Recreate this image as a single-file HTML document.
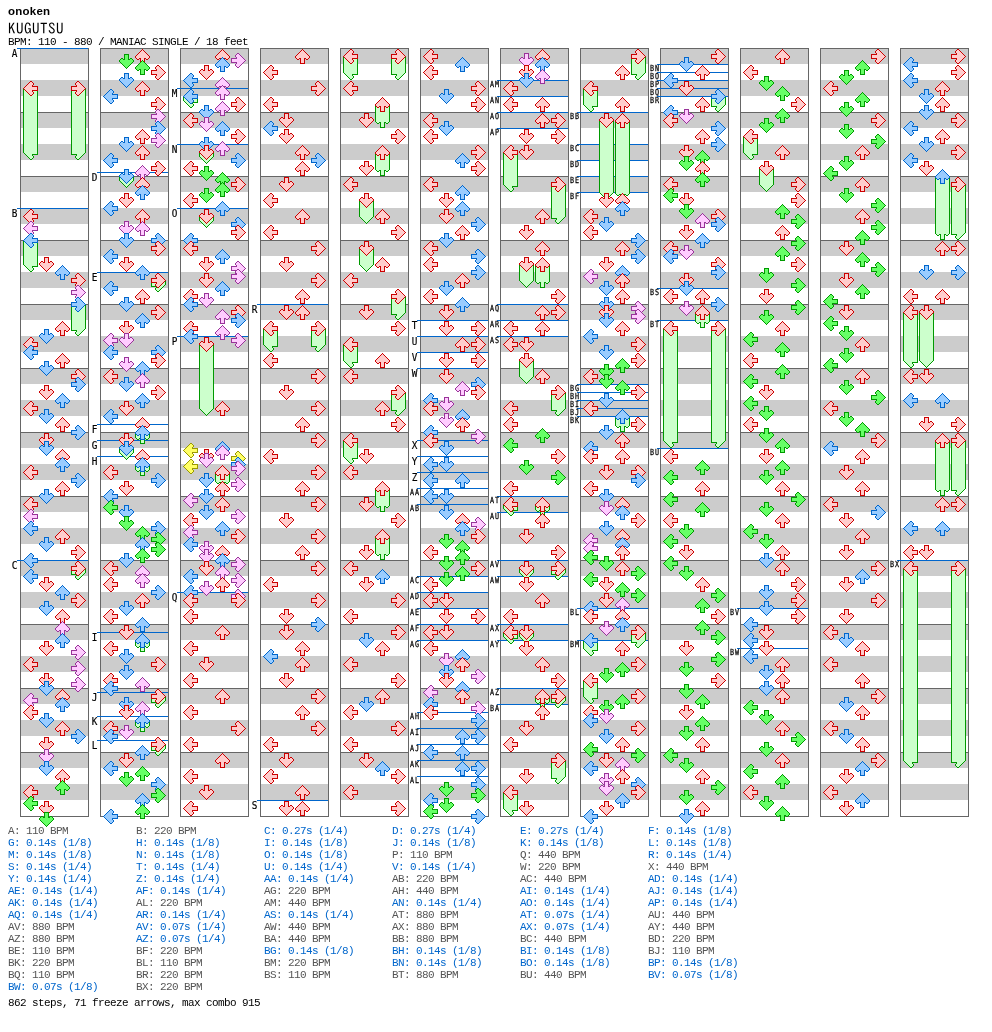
<!DOCTYPE html>
<html><head><meta charset="utf-8"><title>KUGUTSU</title>
<style>
html,body{margin:0;padding:0;background:#fff;width:992px;height:1032px;overflow:hidden;position:relative}
.t{position:absolute;white-space:pre;color:#000}
#ar{left:8px;top:5px;font:bold 11.5px/12px "Liberation Sans",sans-serif;letter-spacing:0.25px}
#ti{left:8px;top:21px;font:15px/16px "IPAGothic",monospace;letter-spacing:0.5px}
#bpm{left:8px;top:36px;font:11px/12px "Liberation Mono",monospace;letter-spacing:-0.6px}
svg{position:absolute;left:0;top:0}
i{position:absolute;width:1px;height:1px;display:block}
.fb{position:absolute;display:block;width:13px;background:#ccffcc;border-left:1px solid #009900;border-right:1px solid #009900}
.qlr{box-shadow:8px 2px #ffcccc,9px 2px #ffcccc,7px 3px #ffcccc,8px 3px #ffcccc,9px 3px #ffcccc,10px 3px #ffcccc,6px 4px #ffcccc,7px 4px #ffcccc,8px 4px #ffcccc,9px 4px #ffcccc,10px 4px #ffcccc,5px 5px #ffcccc,6px 5px #ffcccc,7px 5px #ffcccc,8px 5px #ffcccc,9px 5px #ffcccc,4px 6px #ffcccc,5px 6px #ffcccc,6px 6px #ffcccc,7px 6px #ffcccc,8px 6px #ffcccc,9px 6px #ffcccc,3px 7px #ffcccc,4px 7px #ffcccc,5px 7px #ffcccc,6px 7px #ffcccc,7px 7px #ffcccc,8px 7px #ffcccc,9px 7px #ffcccc,10px 7px #ffcccc,11px 7px #ffcccc,12px 7px #ffcccc,13px 7px #ffcccc,14px 7px #ffcccc,2px 8px #ffcccc,3px 8px #ffcccc,4px 8px #ffcccc,5px 8px #ffcccc,6px 8px #ffcccc,7px 8px #ffcccc,8px 8px #ffcccc,9px 8px #ffcccc,10px 8px #ffcccc,11px 8px #ffcccc,12px 8px #ffcccc,13px 8px #ffcccc,14px 8px #ffcccc,3px 9px #ffcccc,4px 9px #ffcccc,5px 9px #ffcccc,6px 9px #ffcccc,7px 9px #ffcccc,8px 9px #ffcccc,9px 9px #ffcccc,10px 9px #ffcccc,11px 9px #ffcccc,12px 9px #ffcccc,13px 9px #ffcccc,14px 9px #ffcccc,4px 10px #ffcccc,5px 10px #ffcccc,6px 10px #ffcccc,7px 10px #ffcccc,8px 10px #ffcccc,9px 10px #ffcccc,5px 11px #ffcccc,6px 11px #ffcccc,7px 11px #ffcccc,8px 11px #ffcccc,9px 11px #ffcccc,6px 12px #ffcccc,7px 12px #ffcccc,8px 12px #ffcccc,9px 12px #ffcccc,10px 12px #ffcccc,7px 13px #ffcccc,8px 13px #ffcccc,9px 13px #ffcccc,10px 13px #ffcccc,8px 14px #ffcccc,9px 14px #ffcccc,8px 1px #cc0000,9px 1px #cc0000,7px 2px #cc0000,10px 2px #cc0000,6px 3px #cc0000,11px 3px #cc0000,5px 4px #cc0000,11px 4px #cc0000,4px 5px #cc0000,10px 5px #cc0000,3px 6px #cc0000,10px 6px #cc0000,11px 6px #cc0000,12px 6px #cc0000,13px 6px #cc0000,14px 6px #cc0000,15px 6px #cc0000,2px 7px #cc0000,15px 7px #cc0000,1px 8px #cc0000,15px 8px #cc0000,2px 9px #cc0000,15px 9px #cc0000,3px 10px #cc0000,10px 10px #cc0000,11px 10px #cc0000,12px 10px #cc0000,13px 10px #cc0000,14px 10px #cc0000,15px 10px #cc0000,4px 11px #cc0000,10px 11px #cc0000,5px 12px #cc0000,11px 12px #cc0000,6px 13px #cc0000,11px 13px #cc0000,7px 14px #cc0000,10px 14px #cc0000,8px 15px #cc0000,9px 15px #cc0000}.qlb{box-shadow:8px 2px #99ccff,9px 2px #99ccff,7px 3px #99ccff,8px 3px #99ccff,9px 3px #99ccff,10px 3px #99ccff,6px 4px #99ccff,7px 4px #99ccff,8px 4px #99ccff,9px 4px #99ccff,10px 4px #99ccff,5px 5px #99ccff,6px 5px #99ccff,7px 5px #99ccff,8px 5px #99ccff,9px 5px #99ccff,4px 6px #99ccff,5px 6px #99ccff,6px 6px #99ccff,7px 6px #99ccff,8px 6px #99ccff,9px 6px #99ccff,3px 7px #99ccff,4px 7px #99ccff,5px 7px #99ccff,6px 7px #99ccff,7px 7px #99ccff,8px 7px #99ccff,9px 7px #99ccff,10px 7px #99ccff,11px 7px #99ccff,12px 7px #99ccff,13px 7px #99ccff,14px 7px #99ccff,2px 8px #99ccff,3px 8px #99ccff,4px 8px #99ccff,5px 8px #99ccff,6px 8px #99ccff,7px 8px #99ccff,8px 8px #99ccff,9px 8px #99ccff,10px 8px #99ccff,11px 8px #99ccff,12px 8px #99ccff,13px 8px #99ccff,14px 8px #99ccff,3px 9px #99ccff,4px 9px #99ccff,5px 9px #99ccff,6px 9px #99ccff,7px 9px #99ccff,8px 9px #99ccff,9px 9px #99ccff,10px 9px #99ccff,11px 9px #99ccff,12px 9px #99ccff,13px 9px #99ccff,14px 9px #99ccff,4px 10px #99ccff,5px 10px #99ccff,6px 10px #99ccff,7px 10px #99ccff,8px 10px #99ccff,9px 10px #99ccff,5px 11px #99ccff,6px 11px #99ccff,7px 11px #99ccff,8px 11px #99ccff,9px 11px #99ccff,6px 12px #99ccff,7px 12px #99ccff,8px 12px #99ccff,9px 12px #99ccff,10px 12px #99ccff,7px 13px #99ccff,8px 13px #99ccff,9px 13px #99ccff,10px 13px #99ccff,8px 14px #99ccff,9px 14px #99ccff,8px 1px #0066cc,9px 1px #0066cc,7px 2px #0066cc,10px 2px #0066cc,6px 3px #0066cc,11px 3px #0066cc,5px 4px #0066cc,11px 4px #0066cc,4px 5px #0066cc,10px 5px #0066cc,3px 6px #0066cc,10px 6px #0066cc,11px 6px #0066cc,12px 6px #0066cc,13px 6px #0066cc,14px 6px #0066cc,15px 6px #0066cc,2px 7px #0066cc,15px 7px #0066cc,1px 8px #0066cc,15px 8px #0066cc,2px 9px #0066cc,15px 9px #0066cc,3px 10px #0066cc,10px 10px #0066cc,11px 10px #0066cc,12px 10px #0066cc,13px 10px #0066cc,14px 10px #0066cc,15px 10px #0066cc,4px 11px #0066cc,10px 11px #0066cc,5px 12px #0066cc,11px 12px #0066cc,6px 13px #0066cc,11px 13px #0066cc,7px 14px #0066cc,10px 14px #0066cc,8px 15px #0066cc,9px 15px #0066cc}.qlg{box-shadow:8px 2px #66ff66,9px 2px #66ff66,7px 3px #66ff66,8px 3px #66ff66,9px 3px #66ff66,10px 3px #66ff66,6px 4px #66ff66,7px 4px #66ff66,8px 4px #66ff66,9px 4px #66ff66,10px 4px #66ff66,5px 5px #66ff66,6px 5px #66ff66,7px 5px #66ff66,8px 5px #66ff66,9px 5px #66ff66,4px 6px #66ff66,5px 6px #66ff66,6px 6px #66ff66,7px 6px #66ff66,8px 6px #66ff66,9px 6px #66ff66,3px 7px #66ff66,4px 7px #66ff66,5px 7px #66ff66,6px 7px #66ff66,7px 7px #66ff66,8px 7px #66ff66,9px 7px #66ff66,10px 7px #66ff66,11px 7px #66ff66,12px 7px #66ff66,13px 7px #66ff66,14px 7px #66ff66,2px 8px #66ff66,3px 8px #66ff66,4px 8px #66ff66,5px 8px #66ff66,6px 8px #66ff66,7px 8px #66ff66,8px 8px #66ff66,9px 8px #66ff66,10px 8px #66ff66,11px 8px #66ff66,12px 8px #66ff66,13px 8px #66ff66,14px 8px #66ff66,3px 9px #66ff66,4px 9px #66ff66,5px 9px #66ff66,6px 9px #66ff66,7px 9px #66ff66,8px 9px #66ff66,9px 9px #66ff66,10px 9px #66ff66,11px 9px #66ff66,12px 9px #66ff66,13px 9px #66ff66,14px 9px #66ff66,4px 10px #66ff66,5px 10px #66ff66,6px 10px #66ff66,7px 10px #66ff66,8px 10px #66ff66,9px 10px #66ff66,5px 11px #66ff66,6px 11px #66ff66,7px 11px #66ff66,8px 11px #66ff66,9px 11px #66ff66,6px 12px #66ff66,7px 12px #66ff66,8px 12px #66ff66,9px 12px #66ff66,10px 12px #66ff66,7px 13px #66ff66,8px 13px #66ff66,9px 13px #66ff66,10px 13px #66ff66,8px 14px #66ff66,9px 14px #66ff66,8px 1px #009900,9px 1px #009900,7px 2px #009900,10px 2px #009900,6px 3px #009900,11px 3px #009900,5px 4px #009900,11px 4px #009900,4px 5px #009900,10px 5px #009900,3px 6px #009900,10px 6px #009900,11px 6px #009900,12px 6px #009900,13px 6px #009900,14px 6px #009900,15px 6px #009900,2px 7px #009900,15px 7px #009900,1px 8px #009900,15px 8px #009900,2px 9px #009900,15px 9px #009900,3px 10px #009900,10px 10px #009900,11px 10px #009900,12px 10px #009900,13px 10px #009900,14px 10px #009900,15px 10px #009900,4px 11px #009900,10px 11px #009900,5px 12px #009900,11px 12px #009900,6px 13px #009900,11px 13px #009900,7px 14px #009900,10px 14px #009900,8px 15px #009900,9px 15px #009900}.qlp{box-shadow:8px 2px #ffccff,9px 2px #ffccff,7px 3px #ffccff,8px 3px #ffccff,9px 3px #ffccff,10px 3px #ffccff,6px 4px #ffccff,7px 4px #ffccff,8px 4px #ffccff,9px 4px #ffccff,10px 4px #ffccff,5px 5px #ffccff,6px 5px #ffccff,7px 5px #ffccff,8px 5px #ffccff,9px 5px #ffccff,4px 6px #ffccff,5px 6px #ffccff,6px 6px #ffccff,7px 6px #ffccff,8px 6px #ffccff,9px 6px #ffccff,3px 7px #ffccff,4px 7px #ffccff,5px 7px #ffccff,6px 7px #ffccff,7px 7px #ffccff,8px 7px #ffccff,9px 7px #ffccff,10px 7px #ffccff,11px 7px #ffccff,12px 7px #ffccff,13px 7px #ffccff,14px 7px #ffccff,2px 8px #ffccff,3px 8px #ffccff,4px 8px #ffccff,5px 8px #ffccff,6px 8px #ffccff,7px 8px #ffccff,8px 8px #ffccff,9px 8px #ffccff,10px 8px #ffccff,11px 8px #ffccff,12px 8px #ffccff,13px 8px #ffccff,14px 8px #ffccff,3px 9px #ffccff,4px 9px #ffccff,5px 9px #ffccff,6px 9px #ffccff,7px 9px #ffccff,8px 9px #ffccff,9px 9px #ffccff,10px 9px #ffccff,11px 9px #ffccff,12px 9px #ffccff,13px 9px #ffccff,14px 9px #ffccff,4px 10px #ffccff,5px 10px #ffccff,6px 10px #ffccff,7px 10px #ffccff,8px 10px #ffccff,9px 10px #ffccff,5px 11px #ffccff,6px 11px #ffccff,7px 11px #ffccff,8px 11px #ffccff,9px 11px #ffccff,6px 12px #ffccff,7px 12px #ffccff,8px 12px #ffccff,9px 12px #ffccff,10px 12px #ffccff,7px 13px #ffccff,8px 13px #ffccff,9px 13px #ffccff,10px 13px #ffccff,8px 14px #ffccff,9px 14px #ffccff,8px 1px #993399,9px 1px #993399,7px 2px #993399,10px 2px #993399,6px 3px #993399,11px 3px #993399,5px 4px #993399,11px 4px #993399,4px 5px #993399,10px 5px #993399,3px 6px #993399,10px 6px #993399,11px 6px #993399,12px 6px #993399,13px 6px #993399,14px 6px #993399,15px 6px #993399,2px 7px #993399,15px 7px #993399,1px 8px #993399,15px 8px #993399,2px 9px #993399,15px 9px #993399,3px 10px #993399,10px 10px #993399,11px 10px #993399,12px 10px #993399,13px 10px #993399,14px 10px #993399,15px 10px #993399,4px 11px #993399,10px 11px #993399,5px 12px #993399,11px 12px #993399,6px 13px #993399,11px 13px #993399,7px 14px #993399,10px 14px #993399,8px 15px #993399,9px 15px #993399}.qly{box-shadow:8px 2px #ffff66,9px 2px #ffff66,7px 3px #ffff66,8px 3px #ffff66,9px 3px #ffff66,10px 3px #ffff66,6px 4px #ffff66,7px 4px #ffff66,8px 4px #ffff66,9px 4px #ffff66,10px 4px #ffff66,5px 5px #ffff66,6px 5px #ffff66,7px 5px #ffff66,8px 5px #ffff66,9px 5px #ffff66,4px 6px #ffff66,5px 6px #ffff66,6px 6px #ffff66,7px 6px #ffff66,8px 6px #ffff66,9px 6px #ffff66,3px 7px #ffff66,4px 7px #ffff66,5px 7px #ffff66,6px 7px #ffff66,7px 7px #ffff66,8px 7px #ffff66,9px 7px #ffff66,10px 7px #ffff66,11px 7px #ffff66,12px 7px #ffff66,13px 7px #ffff66,14px 7px #ffff66,2px 8px #ffff66,3px 8px #ffff66,4px 8px #ffff66,5px 8px #ffff66,6px 8px #ffff66,7px 8px #ffff66,8px 8px #ffff66,9px 8px #ffff66,10px 8px #ffff66,11px 8px #ffff66,12px 8px #ffff66,13px 8px #ffff66,14px 8px #ffff66,3px 9px #ffff66,4px 9px #ffff66,5px 9px #ffff66,6px 9px #ffff66,7px 9px #ffff66,8px 9px #ffff66,9px 9px #ffff66,10px 9px #ffff66,11px 9px #ffff66,12px 9px #ffff66,13px 9px #ffff66,14px 9px #ffff66,4px 10px #ffff66,5px 10px #ffff66,6px 10px #ffff66,7px 10px #ffff66,8px 10px #ffff66,9px 10px #ffff66,5px 11px #ffff66,6px 11px #ffff66,7px 11px #ffff66,8px 11px #ffff66,9px 11px #ffff66,6px 12px #ffff66,7px 12px #ffff66,8px 12px #ffff66,9px 12px #ffff66,10px 12px #ffff66,7px 13px #ffff66,8px 13px #ffff66,9px 13px #ffff66,10px 13px #ffff66,8px 14px #ffff66,9px 14px #ffff66,8px 1px #999900,9px 1px #999900,7px 2px #999900,10px 2px #999900,6px 3px #999900,11px 3px #999900,5px 4px #999900,11px 4px #999900,4px 5px #999900,10px 5px #999900,3px 6px #999900,10px 6px #999900,11px 6px #999900,12px 6px #999900,13px 6px #999900,14px 6px #999900,15px 6px #999900,2px 7px #999900,15px 7px #999900,1px 8px #999900,15px 8px #999900,2px 9px #999900,15px 9px #999900,3px 10px #999900,10px 10px #999900,11px 10px #999900,12px 10px #999900,13px 10px #999900,14px 10px #999900,15px 10px #999900,4px 11px #999900,10px 11px #999900,5px 12px #999900,11px 12px #999900,6px 13px #999900,11px 13px #999900,7px 14px #999900,10px 14px #999900,8px 15px #999900,9px 15px #999900}.zl{box-shadow:2px 8px #ccffcc,3px 8px #ccffcc,4px 8px #ccffcc,5px 8px #ccffcc,6px 8px #ccffcc,7px 8px #ccffcc,8px 8px #ccffcc,9px 8px #ccffcc,10px 8px #ccffcc,11px 8px #ccffcc,12px 8px #ccffcc,13px 8px #ccffcc,14px 8px #ccffcc,3px 9px #ccffcc,4px 9px #ccffcc,5px 9px #ccffcc,6px 9px #ccffcc,7px 9px #ccffcc,8px 9px #ccffcc,9px 9px #ccffcc,10px 9px #ccffcc,11px 9px #ccffcc,12px 9px #ccffcc,13px 9px #ccffcc,14px 9px #ccffcc,4px 10px #ccffcc,5px 10px #ccffcc,6px 10px #ccffcc,7px 10px #ccffcc,8px 10px #ccffcc,9px 10px #ccffcc,5px 11px #ccffcc,6px 11px #ccffcc,7px 11px #ccffcc,8px 11px #ccffcc,9px 11px #ccffcc,6px 12px #ccffcc,7px 12px #ccffcc,8px 12px #ccffcc,9px 12px #ccffcc,10px 12px #ccffcc,7px 13px #ccffcc,8px 13px #ccffcc,9px 13px #ccffcc,10px 13px #ccffcc,8px 14px #ccffcc,9px 14px #ccffcc,1px 8px #009900,15px 8px #009900,2px 9px #009900,15px 9px #009900,3px 10px #009900,10px 10px #009900,11px 10px #009900,12px 10px #009900,13px 10px #009900,14px 10px #009900,15px 10px #009900,4px 11px #009900,10px 11px #009900,5px 12px #009900,11px 12px #009900,6px 13px #009900,11px 13px #009900,7px 14px #009900,10px 14px #009900,8px 15px #009900,9px 15px #009900}.qdr{box-shadow:7px 2px #ffcccc,8px 2px #ffcccc,9px 2px #ffcccc,7px 3px #ffcccc,8px 3px #ffcccc,9px 3px #ffcccc,7px 4px #ffcccc,8px 4px #ffcccc,9px 4px #ffcccc,7px 5px #ffcccc,8px 5px #ffcccc,9px 5px #ffcccc,3px 6px #ffcccc,4px 6px #ffcccc,7px 6px #ffcccc,8px 6px #ffcccc,9px 6px #ffcccc,12px 6px #ffcccc,13px 6px #ffcccc,2px 7px #ffcccc,3px 7px #ffcccc,4px 7px #ffcccc,5px 7px #ffcccc,6px 7px #ffcccc,7px 7px #ffcccc,8px 7px #ffcccc,9px 7px #ffcccc,10px 7px #ffcccc,11px 7px #ffcccc,12px 7px #ffcccc,13px 7px #ffcccc,14px 7px #ffcccc,2px 8px #ffcccc,3px 8px #ffcccc,4px 8px #ffcccc,5px 8px #ffcccc,6px 8px #ffcccc,7px 8px #ffcccc,8px 8px #ffcccc,9px 8px #ffcccc,10px 8px #ffcccc,11px 8px #ffcccc,12px 8px #ffcccc,13px 8px #ffcccc,14px 8px #ffcccc,3px 9px #ffcccc,4px 9px #ffcccc,5px 9px #ffcccc,6px 9px #ffcccc,7px 9px #ffcccc,8px 9px #ffcccc,9px 9px #ffcccc,10px 9px #ffcccc,11px 9px #ffcccc,12px 9px #ffcccc,13px 9px #ffcccc,4px 10px #ffcccc,5px 10px #ffcccc,6px 10px #ffcccc,7px 10px #ffcccc,8px 10px #ffcccc,9px 10px #ffcccc,10px 10px #ffcccc,11px 10px #ffcccc,12px 10px #ffcccc,5px 11px #ffcccc,6px 11px #ffcccc,7px 11px #ffcccc,8px 11px #ffcccc,9px 11px #ffcccc,10px 11px #ffcccc,11px 11px #ffcccc,6px 12px #ffcccc,7px 12px #ffcccc,8px 12px #ffcccc,9px 12px #ffcccc,10px 12px #ffcccc,7px 13px #ffcccc,8px 13px #ffcccc,9px 13px #ffcccc,8px 14px #ffcccc,6px 1px #cc0000,7px 1px #cc0000,8px 1px #cc0000,9px 1px #cc0000,10px 1px #cc0000,6px 2px #cc0000,10px 2px #cc0000,6px 3px #cc0000,10px 3px #cc0000,6px 4px #cc0000,10px 4px #cc0000,3px 5px #cc0000,4px 5px #cc0000,6px 5px #cc0000,10px 5px #cc0000,12px 5px #cc0000,13px 5px #cc0000,2px 6px #cc0000,5px 6px #cc0000,6px 6px #cc0000,10px 6px #cc0000,11px 6px #cc0000,14px 6px #cc0000,1px 7px #cc0000,15px 7px #cc0000,1px 8px #cc0000,15px 8px #cc0000,2px 9px #cc0000,14px 9px #cc0000,3px 10px #cc0000,13px 10px #cc0000,4px 11px #cc0000,12px 11px #cc0000,5px 12px #cc0000,11px 12px #cc0000,6px 13px #cc0000,10px 13px #cc0000,7px 14px #cc0000,9px 14px #cc0000,8px 15px #cc0000}.qdb{box-shadow:7px 2px #99ccff,8px 2px #99ccff,9px 2px #99ccff,7px 3px #99ccff,8px 3px #99ccff,9px 3px #99ccff,7px 4px #99ccff,8px 4px #99ccff,9px 4px #99ccff,7px 5px #99ccff,8px 5px #99ccff,9px 5px #99ccff,3px 6px #99ccff,4px 6px #99ccff,7px 6px #99ccff,8px 6px #99ccff,9px 6px #99ccff,12px 6px #99ccff,13px 6px #99ccff,2px 7px #99ccff,3px 7px #99ccff,4px 7px #99ccff,5px 7px #99ccff,6px 7px #99ccff,7px 7px #99ccff,8px 7px #99ccff,9px 7px #99ccff,10px 7px #99ccff,11px 7px #99ccff,12px 7px #99ccff,13px 7px #99ccff,14px 7px #99ccff,2px 8px #99ccff,3px 8px #99ccff,4px 8px #99ccff,5px 8px #99ccff,6px 8px #99ccff,7px 8px #99ccff,8px 8px #99ccff,9px 8px #99ccff,10px 8px #99ccff,11px 8px #99ccff,12px 8px #99ccff,13px 8px #99ccff,14px 8px #99ccff,3px 9px #99ccff,4px 9px #99ccff,5px 9px #99ccff,6px 9px #99ccff,7px 9px #99ccff,8px 9px #99ccff,9px 9px #99ccff,10px 9px #99ccff,11px 9px #99ccff,12px 9px #99ccff,13px 9px #99ccff,4px 10px #99ccff,5px 10px #99ccff,6px 10px #99ccff,7px 10px #99ccff,8px 10px #99ccff,9px 10px #99ccff,10px 10px #99ccff,11px 10px #99ccff,12px 10px #99ccff,5px 11px #99ccff,6px 11px #99ccff,7px 11px #99ccff,8px 11px #99ccff,9px 11px #99ccff,10px 11px #99ccff,11px 11px #99ccff,6px 12px #99ccff,7px 12px #99ccff,8px 12px #99ccff,9px 12px #99ccff,10px 12px #99ccff,7px 13px #99ccff,8px 13px #99ccff,9px 13px #99ccff,8px 14px #99ccff,6px 1px #0066cc,7px 1px #0066cc,8px 1px #0066cc,9px 1px #0066cc,10px 1px #0066cc,6px 2px #0066cc,10px 2px #0066cc,6px 3px #0066cc,10px 3px #0066cc,6px 4px #0066cc,10px 4px #0066cc,3px 5px #0066cc,4px 5px #0066cc,6px 5px #0066cc,10px 5px #0066cc,12px 5px #0066cc,13px 5px #0066cc,2px 6px #0066cc,5px 6px #0066cc,6px 6px #0066cc,10px 6px #0066cc,11px 6px #0066cc,14px 6px #0066cc,1px 7px #0066cc,15px 7px #0066cc,1px 8px #0066cc,15px 8px #0066cc,2px 9px #0066cc,14px 9px #0066cc,3px 10px #0066cc,13px 10px #0066cc,4px 11px #0066cc,12px 11px #0066cc,5px 12px #0066cc,11px 12px #0066cc,6px 13px #0066cc,10px 13px #0066cc,7px 14px #0066cc,9px 14px #0066cc,8px 15px #0066cc}.qdg{box-shadow:7px 2px #66ff66,8px 2px #66ff66,9px 2px #66ff66,7px 3px #66ff66,8px 3px #66ff66,9px 3px #66ff66,7px 4px #66ff66,8px 4px #66ff66,9px 4px #66ff66,7px 5px #66ff66,8px 5px #66ff66,9px 5px #66ff66,3px 6px #66ff66,4px 6px #66ff66,7px 6px #66ff66,8px 6px #66ff66,9px 6px #66ff66,12px 6px #66ff66,13px 6px #66ff66,2px 7px #66ff66,3px 7px #66ff66,4px 7px #66ff66,5px 7px #66ff66,6px 7px #66ff66,7px 7px #66ff66,8px 7px #66ff66,9px 7px #66ff66,10px 7px #66ff66,11px 7px #66ff66,12px 7px #66ff66,13px 7px #66ff66,14px 7px #66ff66,2px 8px #66ff66,3px 8px #66ff66,4px 8px #66ff66,5px 8px #66ff66,6px 8px #66ff66,7px 8px #66ff66,8px 8px #66ff66,9px 8px #66ff66,10px 8px #66ff66,11px 8px #66ff66,12px 8px #66ff66,13px 8px #66ff66,14px 8px #66ff66,3px 9px #66ff66,4px 9px #66ff66,5px 9px #66ff66,6px 9px #66ff66,7px 9px #66ff66,8px 9px #66ff66,9px 9px #66ff66,10px 9px #66ff66,11px 9px #66ff66,12px 9px #66ff66,13px 9px #66ff66,4px 10px #66ff66,5px 10px #66ff66,6px 10px #66ff66,7px 10px #66ff66,8px 10px #66ff66,9px 10px #66ff66,10px 10px #66ff66,11px 10px #66ff66,12px 10px #66ff66,5px 11px #66ff66,6px 11px #66ff66,7px 11px #66ff66,8px 11px #66ff66,9px 11px #66ff66,10px 11px #66ff66,11px 11px #66ff66,6px 12px #66ff66,7px 12px #66ff66,8px 12px #66ff66,9px 12px #66ff66,10px 12px #66ff66,7px 13px #66ff66,8px 13px #66ff66,9px 13px #66ff66,8px 14px #66ff66,6px 1px #009900,7px 1px #009900,8px 1px #009900,9px 1px #009900,10px 1px #009900,6px 2px #009900,10px 2px #009900,6px 3px #009900,10px 3px #009900,6px 4px #009900,10px 4px #009900,3px 5px #009900,4px 5px #009900,6px 5px #009900,10px 5px #009900,12px 5px #009900,13px 5px #009900,2px 6px #009900,5px 6px #009900,6px 6px #009900,10px 6px #009900,11px 6px #009900,14px 6px #009900,1px 7px #009900,15px 7px #009900,1px 8px #009900,15px 8px #009900,2px 9px #009900,14px 9px #009900,3px 10px #009900,13px 10px #009900,4px 11px #009900,12px 11px #009900,5px 12px #009900,11px 12px #009900,6px 13px #009900,10px 13px #009900,7px 14px #009900,9px 14px #009900,8px 15px #009900}.qdp{box-shadow:7px 2px #ffccff,8px 2px #ffccff,9px 2px #ffccff,7px 3px #ffccff,8px 3px #ffccff,9px 3px #ffccff,7px 4px #ffccff,8px 4px #ffccff,9px 4px #ffccff,7px 5px #ffccff,8px 5px #ffccff,9px 5px #ffccff,3px 6px #ffccff,4px 6px #ffccff,7px 6px #ffccff,8px 6px #ffccff,9px 6px #ffccff,12px 6px #ffccff,13px 6px #ffccff,2px 7px #ffccff,3px 7px #ffccff,4px 7px #ffccff,5px 7px #ffccff,6px 7px #ffccff,7px 7px #ffccff,8px 7px #ffccff,9px 7px #ffccff,10px 7px #ffccff,11px 7px #ffccff,12px 7px #ffccff,13px 7px #ffccff,14px 7px #ffccff,2px 8px #ffccff,3px 8px #ffccff,4px 8px #ffccff,5px 8px #ffccff,6px 8px #ffccff,7px 8px #ffccff,8px 8px #ffccff,9px 8px #ffccff,10px 8px #ffccff,11px 8px #ffccff,12px 8px #ffccff,13px 8px #ffccff,14px 8px #ffccff,3px 9px #ffccff,4px 9px #ffccff,5px 9px #ffccff,6px 9px #ffccff,7px 9px #ffccff,8px 9px #ffccff,9px 9px #ffccff,10px 9px #ffccff,11px 9px #ffccff,12px 9px #ffccff,13px 9px #ffccff,4px 10px #ffccff,5px 10px #ffccff,6px 10px #ffccff,7px 10px #ffccff,8px 10px #ffccff,9px 10px #ffccff,10px 10px #ffccff,11px 10px #ffccff,12px 10px #ffccff,5px 11px #ffccff,6px 11px #ffccff,7px 11px #ffccff,8px 11px #ffccff,9px 11px #ffccff,10px 11px #ffccff,11px 11px #ffccff,6px 12px #ffccff,7px 12px #ffccff,8px 12px #ffccff,9px 12px #ffccff,10px 12px #ffccff,7px 13px #ffccff,8px 13px #ffccff,9px 13px #ffccff,8px 14px #ffccff,6px 1px #993399,7px 1px #993399,8px 1px #993399,9px 1px #993399,10px 1px #993399,6px 2px #993399,10px 2px #993399,6px 3px #993399,10px 3px #993399,6px 4px #993399,10px 4px #993399,3px 5px #993399,4px 5px #993399,6px 5px #993399,10px 5px #993399,12px 5px #993399,13px 5px #993399,2px 6px #993399,5px 6px #993399,6px 6px #993399,10px 6px #993399,11px 6px #993399,14px 6px #993399,1px 7px #993399,15px 7px #993399,1px 8px #993399,15px 8px #993399,2px 9px #993399,14px 9px #993399,3px 10px #993399,13px 10px #993399,4px 11px #993399,12px 11px #993399,5px 12px #993399,11px 12px #993399,6px 13px #993399,10px 13px #993399,7px 14px #993399,9px 14px #993399,8px 15px #993399}.qdy{box-shadow:7px 2px #ffff66,8px 2px #ffff66,9px 2px #ffff66,7px 3px #ffff66,8px 3px #ffff66,9px 3px #ffff66,7px 4px #ffff66,8px 4px #ffff66,9px 4px #ffff66,7px 5px #ffff66,8px 5px #ffff66,9px 5px #ffff66,3px 6px #ffff66,4px 6px #ffff66,7px 6px #ffff66,8px 6px #ffff66,9px 6px #ffff66,12px 6px #ffff66,13px 6px #ffff66,2px 7px #ffff66,3px 7px #ffff66,4px 7px #ffff66,5px 7px #ffff66,6px 7px #ffff66,7px 7px #ffff66,8px 7px #ffff66,9px 7px #ffff66,10px 7px #ffff66,11px 7px #ffff66,12px 7px #ffff66,13px 7px #ffff66,14px 7px #ffff66,2px 8px #ffff66,3px 8px #ffff66,4px 8px #ffff66,5px 8px #ffff66,6px 8px #ffff66,7px 8px #ffff66,8px 8px #ffff66,9px 8px #ffff66,10px 8px #ffff66,11px 8px #ffff66,12px 8px #ffff66,13px 8px #ffff66,14px 8px #ffff66,3px 9px #ffff66,4px 9px #ffff66,5px 9px #ffff66,6px 9px #ffff66,7px 9px #ffff66,8px 9px #ffff66,9px 9px #ffff66,10px 9px #ffff66,11px 9px #ffff66,12px 9px #ffff66,13px 9px #ffff66,4px 10px #ffff66,5px 10px #ffff66,6px 10px #ffff66,7px 10px #ffff66,8px 10px #ffff66,9px 10px #ffff66,10px 10px #ffff66,11px 10px #ffff66,12px 10px #ffff66,5px 11px #ffff66,6px 11px #ffff66,7px 11px #ffff66,8px 11px #ffff66,9px 11px #ffff66,10px 11px #ffff66,11px 11px #ffff66,6px 12px #ffff66,7px 12px #ffff66,8px 12px #ffff66,9px 12px #ffff66,10px 12px #ffff66,7px 13px #ffff66,8px 13px #ffff66,9px 13px #ffff66,8px 14px #ffff66,6px 1px #999900,7px 1px #999900,8px 1px #999900,9px 1px #999900,10px 1px #999900,6px 2px #999900,10px 2px #999900,6px 3px #999900,10px 3px #999900,6px 4px #999900,10px 4px #999900,3px 5px #999900,4px 5px #999900,6px 5px #999900,10px 5px #999900,12px 5px #999900,13px 5px #999900,2px 6px #999900,5px 6px #999900,6px 6px #999900,10px 6px #999900,11px 6px #999900,14px 6px #999900,1px 7px #999900,15px 7px #999900,1px 8px #999900,15px 8px #999900,2px 9px #999900,14px 9px #999900,3px 10px #999900,13px 10px #999900,4px 11px #999900,12px 11px #999900,5px 12px #999900,11px 12px #999900,6px 13px #999900,10px 13px #999900,7px 14px #999900,9px 14px #999900,8px 15px #999900}.zd{box-shadow:2px 8px #ccffcc,3px 8px #ccffcc,4px 8px #ccffcc,5px 8px #ccffcc,6px 8px #ccffcc,7px 8px #ccffcc,8px 8px #ccffcc,9px 8px #ccffcc,10px 8px #ccffcc,11px 8px #ccffcc,12px 8px #ccffcc,13px 8px #ccffcc,14px 8px #ccffcc,3px 9px #ccffcc,4px 9px #ccffcc,5px 9px #ccffcc,6px 9px #ccffcc,7px 9px #ccffcc,8px 9px #ccffcc,9px 9px #ccffcc,10px 9px #ccffcc,11px 9px #ccffcc,12px 9px #ccffcc,13px 9px #ccffcc,4px 10px #ccffcc,5px 10px #ccffcc,6px 10px #ccffcc,7px 10px #ccffcc,8px 10px #ccffcc,9px 10px #ccffcc,10px 10px #ccffcc,11px 10px #ccffcc,12px 10px #ccffcc,5px 11px #ccffcc,6px 11px #ccffcc,7px 11px #ccffcc,8px 11px #ccffcc,9px 11px #ccffcc,10px 11px #ccffcc,11px 11px #ccffcc,6px 12px #ccffcc,7px 12px #ccffcc,8px 12px #ccffcc,9px 12px #ccffcc,10px 12px #ccffcc,7px 13px #ccffcc,8px 13px #ccffcc,9px 13px #ccffcc,8px 14px #ccffcc,1px 8px #009900,15px 8px #009900,2px 9px #009900,14px 9px #009900,3px 10px #009900,13px 10px #009900,4px 11px #009900,12px 11px #009900,5px 12px #009900,11px 12px #009900,6px 13px #009900,10px 13px #009900,7px 14px #009900,9px 14px #009900,8px 15px #009900}.qur{box-shadow:8px 2px #ffcccc,7px 3px #ffcccc,8px 3px #ffcccc,9px 3px #ffcccc,6px 4px #ffcccc,7px 4px #ffcccc,8px 4px #ffcccc,9px 4px #ffcccc,10px 4px #ffcccc,5px 5px #ffcccc,6px 5px #ffcccc,7px 5px #ffcccc,8px 5px #ffcccc,9px 5px #ffcccc,10px 5px #ffcccc,11px 5px #ffcccc,4px 6px #ffcccc,5px 6px #ffcccc,6px 6px #ffcccc,7px 6px #ffcccc,8px 6px #ffcccc,9px 6px #ffcccc,10px 6px #ffcccc,11px 6px #ffcccc,12px 6px #ffcccc,3px 7px #ffcccc,4px 7px #ffcccc,5px 7px #ffcccc,6px 7px #ffcccc,7px 7px #ffcccc,8px 7px #ffcccc,9px 7px #ffcccc,10px 7px #ffcccc,11px 7px #ffcccc,12px 7px #ffcccc,13px 7px #ffcccc,2px 8px #ffcccc,3px 8px #ffcccc,4px 8px #ffcccc,5px 8px #ffcccc,6px 8px #ffcccc,7px 8px #ffcccc,8px 8px #ffcccc,9px 8px #ffcccc,10px 8px #ffcccc,11px 8px #ffcccc,12px 8px #ffcccc,13px 8px #ffcccc,14px 8px #ffcccc,2px 9px #ffcccc,3px 9px #ffcccc,4px 9px #ffcccc,5px 9px #ffcccc,6px 9px #ffcccc,7px 9px #ffcccc,8px 9px #ffcccc,9px 9px #ffcccc,10px 9px #ffcccc,11px 9px #ffcccc,12px 9px #ffcccc,13px 9px #ffcccc,14px 9px #ffcccc,3px 10px #ffcccc,4px 10px #ffcccc,7px 10px #ffcccc,8px 10px #ffcccc,9px 10px #ffcccc,12px 10px #ffcccc,13px 10px #ffcccc,7px 11px #ffcccc,8px 11px #ffcccc,9px 11px #ffcccc,7px 12px #ffcccc,8px 12px #ffcccc,9px 12px #ffcccc,7px 13px #ffcccc,8px 13px #ffcccc,9px 13px #ffcccc,7px 14px #ffcccc,8px 14px #ffcccc,9px 14px #ffcccc,8px 1px #cc0000,7px 2px #cc0000,9px 2px #cc0000,6px 3px #cc0000,10px 3px #cc0000,5px 4px #cc0000,11px 4px #cc0000,4px 5px #cc0000,12px 5px #cc0000,3px 6px #cc0000,13px 6px #cc0000,2px 7px #cc0000,14px 7px #cc0000,1px 8px #cc0000,15px 8px #cc0000,1px 9px #cc0000,15px 9px #cc0000,2px 10px #cc0000,5px 10px #cc0000,6px 10px #cc0000,10px 10px #cc0000,11px 10px #cc0000,14px 10px #cc0000,3px 11px #cc0000,4px 11px #cc0000,6px 11px #cc0000,10px 11px #cc0000,12px 11px #cc0000,13px 11px #cc0000,6px 12px #cc0000,10px 12px #cc0000,6px 13px #cc0000,10px 13px #cc0000,6px 14px #cc0000,10px 14px #cc0000,6px 15px #cc0000,7px 15px #cc0000,8px 15px #cc0000,9px 15px #cc0000,10px 15px #cc0000}.qub{box-shadow:8px 2px #99ccff,7px 3px #99ccff,8px 3px #99ccff,9px 3px #99ccff,6px 4px #99ccff,7px 4px #99ccff,8px 4px #99ccff,9px 4px #99ccff,10px 4px #99ccff,5px 5px #99ccff,6px 5px #99ccff,7px 5px #99ccff,8px 5px #99ccff,9px 5px #99ccff,10px 5px #99ccff,11px 5px #99ccff,4px 6px #99ccff,5px 6px #99ccff,6px 6px #99ccff,7px 6px #99ccff,8px 6px #99ccff,9px 6px #99ccff,10px 6px #99ccff,11px 6px #99ccff,12px 6px #99ccff,3px 7px #99ccff,4px 7px #99ccff,5px 7px #99ccff,6px 7px #99ccff,7px 7px #99ccff,8px 7px #99ccff,9px 7px #99ccff,10px 7px #99ccff,11px 7px #99ccff,12px 7px #99ccff,13px 7px #99ccff,2px 8px #99ccff,3px 8px #99ccff,4px 8px #99ccff,5px 8px #99ccff,6px 8px #99ccff,7px 8px #99ccff,8px 8px #99ccff,9px 8px #99ccff,10px 8px #99ccff,11px 8px #99ccff,12px 8px #99ccff,13px 8px #99ccff,14px 8px #99ccff,2px 9px #99ccff,3px 9px #99ccff,4px 9px #99ccff,5px 9px #99ccff,6px 9px #99ccff,7px 9px #99ccff,8px 9px #99ccff,9px 9px #99ccff,10px 9px #99ccff,11px 9px #99ccff,12px 9px #99ccff,13px 9px #99ccff,14px 9px #99ccff,3px 10px #99ccff,4px 10px #99ccff,7px 10px #99ccff,8px 10px #99ccff,9px 10px #99ccff,12px 10px #99ccff,13px 10px #99ccff,7px 11px #99ccff,8px 11px #99ccff,9px 11px #99ccff,7px 12px #99ccff,8px 12px #99ccff,9px 12px #99ccff,7px 13px #99ccff,8px 13px #99ccff,9px 13px #99ccff,7px 14px #99ccff,8px 14px #99ccff,9px 14px #99ccff,8px 1px #0066cc,7px 2px #0066cc,9px 2px #0066cc,6px 3px #0066cc,10px 3px #0066cc,5px 4px #0066cc,11px 4px #0066cc,4px 5px #0066cc,12px 5px #0066cc,3px 6px #0066cc,13px 6px #0066cc,2px 7px #0066cc,14px 7px #0066cc,1px 8px #0066cc,15px 8px #0066cc,1px 9px #0066cc,15px 9px #0066cc,2px 10px #0066cc,5px 10px #0066cc,6px 10px #0066cc,10px 10px #0066cc,11px 10px #0066cc,14px 10px #0066cc,3px 11px #0066cc,4px 11px #0066cc,6px 11px #0066cc,10px 11px #0066cc,12px 11px #0066cc,13px 11px #0066cc,6px 12px #0066cc,10px 12px #0066cc,6px 13px #0066cc,10px 13px #0066cc,6px 14px #0066cc,10px 14px #0066cc,6px 15px #0066cc,7px 15px #0066cc,8px 15px #0066cc,9px 15px #0066cc,10px 15px #0066cc}.qug{box-shadow:8px 2px #66ff66,7px 3px #66ff66,8px 3px #66ff66,9px 3px #66ff66,6px 4px #66ff66,7px 4px #66ff66,8px 4px #66ff66,9px 4px #66ff66,10px 4px #66ff66,5px 5px #66ff66,6px 5px #66ff66,7px 5px #66ff66,8px 5px #66ff66,9px 5px #66ff66,10px 5px #66ff66,11px 5px #66ff66,4px 6px #66ff66,5px 6px #66ff66,6px 6px #66ff66,7px 6px #66ff66,8px 6px #66ff66,9px 6px #66ff66,10px 6px #66ff66,11px 6px #66ff66,12px 6px #66ff66,3px 7px #66ff66,4px 7px #66ff66,5px 7px #66ff66,6px 7px #66ff66,7px 7px #66ff66,8px 7px #66ff66,9px 7px #66ff66,10px 7px #66ff66,11px 7px #66ff66,12px 7px #66ff66,13px 7px #66ff66,2px 8px #66ff66,3px 8px #66ff66,4px 8px #66ff66,5px 8px #66ff66,6px 8px #66ff66,7px 8px #66ff66,8px 8px #66ff66,9px 8px #66ff66,10px 8px #66ff66,11px 8px #66ff66,12px 8px #66ff66,13px 8px #66ff66,14px 8px #66ff66,2px 9px #66ff66,3px 9px #66ff66,4px 9px #66ff66,5px 9px #66ff66,6px 9px #66ff66,7px 9px #66ff66,8px 9px #66ff66,9px 9px #66ff66,10px 9px #66ff66,11px 9px #66ff66,12px 9px #66ff66,13px 9px #66ff66,14px 9px #66ff66,3px 10px #66ff66,4px 10px #66ff66,7px 10px #66ff66,8px 10px #66ff66,9px 10px #66ff66,12px 10px #66ff66,13px 10px #66ff66,7px 11px #66ff66,8px 11px #66ff66,9px 11px #66ff66,7px 12px #66ff66,8px 12px #66ff66,9px 12px #66ff66,7px 13px #66ff66,8px 13px #66ff66,9px 13px #66ff66,7px 14px #66ff66,8px 14px #66ff66,9px 14px #66ff66,8px 1px #009900,7px 2px #009900,9px 2px #009900,6px 3px #009900,10px 3px #009900,5px 4px #009900,11px 4px #009900,4px 5px #009900,12px 5px #009900,3px 6px #009900,13px 6px #009900,2px 7px #009900,14px 7px #009900,1px 8px #009900,15px 8px #009900,1px 9px #009900,15px 9px #009900,2px 10px #009900,5px 10px #009900,6px 10px #009900,10px 10px #009900,11px 10px #009900,14px 10px #009900,3px 11px #009900,4px 11px #009900,6px 11px #009900,10px 11px #009900,12px 11px #009900,13px 11px #009900,6px 12px #009900,10px 12px #009900,6px 13px #009900,10px 13px #009900,6px 14px #009900,10px 14px #009900,6px 15px #009900,7px 15px #009900,8px 15px #009900,9px 15px #009900,10px 15px #009900}.qup{box-shadow:8px 2px #ffccff,7px 3px #ffccff,8px 3px #ffccff,9px 3px #ffccff,6px 4px #ffccff,7px 4px #ffccff,8px 4px #ffccff,9px 4px #ffccff,10px 4px #ffccff,5px 5px #ffccff,6px 5px #ffccff,7px 5px #ffccff,8px 5px #ffccff,9px 5px #ffccff,10px 5px #ffccff,11px 5px #ffccff,4px 6px #ffccff,5px 6px #ffccff,6px 6px #ffccff,7px 6px #ffccff,8px 6px #ffccff,9px 6px #ffccff,10px 6px #ffccff,11px 6px #ffccff,12px 6px #ffccff,3px 7px #ffccff,4px 7px #ffccff,5px 7px #ffccff,6px 7px #ffccff,7px 7px #ffccff,8px 7px #ffccff,9px 7px #ffccff,10px 7px #ffccff,11px 7px #ffccff,12px 7px #ffccff,13px 7px #ffccff,2px 8px #ffccff,3px 8px #ffccff,4px 8px #ffccff,5px 8px #ffccff,6px 8px #ffccff,7px 8px #ffccff,8px 8px #ffccff,9px 8px #ffccff,10px 8px #ffccff,11px 8px #ffccff,12px 8px #ffccff,13px 8px #ffccff,14px 8px #ffccff,2px 9px #ffccff,3px 9px #ffccff,4px 9px #ffccff,5px 9px #ffccff,6px 9px #ffccff,7px 9px #ffccff,8px 9px #ffccff,9px 9px #ffccff,10px 9px #ffccff,11px 9px #ffccff,12px 9px #ffccff,13px 9px #ffccff,14px 9px #ffccff,3px 10px #ffccff,4px 10px #ffccff,7px 10px #ffccff,8px 10px #ffccff,9px 10px #ffccff,12px 10px #ffccff,13px 10px #ffccff,7px 11px #ffccff,8px 11px #ffccff,9px 11px #ffccff,7px 12px #ffccff,8px 12px #ffccff,9px 12px #ffccff,7px 13px #ffccff,8px 13px #ffccff,9px 13px #ffccff,7px 14px #ffccff,8px 14px #ffccff,9px 14px #ffccff,8px 1px #993399,7px 2px #993399,9px 2px #993399,6px 3px #993399,10px 3px #993399,5px 4px #993399,11px 4px #993399,4px 5px #993399,12px 5px #993399,3px 6px #993399,13px 6px #993399,2px 7px #993399,14px 7px #993399,1px 8px #993399,15px 8px #993399,1px 9px #993399,15px 9px #993399,2px 10px #993399,5px 10px #993399,6px 10px #993399,10px 10px #993399,11px 10px #993399,14px 10px #993399,3px 11px #993399,4px 11px #993399,6px 11px #993399,10px 11px #993399,12px 11px #993399,13px 11px #993399,6px 12px #993399,10px 12px #993399,6px 13px #993399,10px 13px #993399,6px 14px #993399,10px 14px #993399,6px 15px #993399,7px 15px #993399,8px 15px #993399,9px 15px #993399,10px 15px #993399}.quy{box-shadow:8px 2px #ffff66,7px 3px #ffff66,8px 3px #ffff66,9px 3px #ffff66,6px 4px #ffff66,7px 4px #ffff66,8px 4px #ffff66,9px 4px #ffff66,10px 4px #ffff66,5px 5px #ffff66,6px 5px #ffff66,7px 5px #ffff66,8px 5px #ffff66,9px 5px #ffff66,10px 5px #ffff66,11px 5px #ffff66,4px 6px #ffff66,5px 6px #ffff66,6px 6px #ffff66,7px 6px #ffff66,8px 6px #ffff66,9px 6px #ffff66,10px 6px #ffff66,11px 6px #ffff66,12px 6px #ffff66,3px 7px #ffff66,4px 7px #ffff66,5px 7px #ffff66,6px 7px #ffff66,7px 7px #ffff66,8px 7px #ffff66,9px 7px #ffff66,10px 7px #ffff66,11px 7px #ffff66,12px 7px #ffff66,13px 7px #ffff66,2px 8px #ffff66,3px 8px #ffff66,4px 8px #ffff66,5px 8px #ffff66,6px 8px #ffff66,7px 8px #ffff66,8px 8px #ffff66,9px 8px #ffff66,10px 8px #ffff66,11px 8px #ffff66,12px 8px #ffff66,13px 8px #ffff66,14px 8px #ffff66,2px 9px #ffff66,3px 9px #ffff66,4px 9px #ffff66,5px 9px #ffff66,6px 9px #ffff66,7px 9px #ffff66,8px 9px #ffff66,9px 9px #ffff66,10px 9px #ffff66,11px 9px #ffff66,12px 9px #ffff66,13px 9px #ffff66,14px 9px #ffff66,3px 10px #ffff66,4px 10px #ffff66,7px 10px #ffff66,8px 10px #ffff66,9px 10px #ffff66,12px 10px #ffff66,13px 10px #ffff66,7px 11px #ffff66,8px 11px #ffff66,9px 11px #ffff66,7px 12px #ffff66,8px 12px #ffff66,9px 12px #ffff66,7px 13px #ffff66,8px 13px #ffff66,9px 13px #ffff66,7px 14px #ffff66,8px 14px #ffff66,9px 14px #ffff66,8px 1px #999900,7px 2px #999900,9px 2px #999900,6px 3px #999900,10px 3px #999900,5px 4px #999900,11px 4px #999900,4px 5px #999900,12px 5px #999900,3px 6px #999900,13px 6px #999900,2px 7px #999900,14px 7px #999900,1px 8px #999900,15px 8px #999900,1px 9px #999900,15px 9px #999900,2px 10px #999900,5px 10px #999900,6px 10px #999900,10px 10px #999900,11px 10px #999900,14px 10px #999900,3px 11px #999900,4px 11px #999900,6px 11px #999900,10px 11px #999900,12px 11px #999900,13px 11px #999900,6px 12px #999900,10px 12px #999900,6px 13px #999900,10px 13px #999900,6px 14px #999900,10px 14px #999900,6px 15px #999900,7px 15px #999900,8px 15px #999900,9px 15px #999900,10px 15px #999900}.zu{box-shadow:2px 8px #ccffcc,3px 8px #ccffcc,4px 8px #ccffcc,5px 8px #ccffcc,6px 8px #ccffcc,7px 8px #ccffcc,8px 8px #ccffcc,9px 8px #ccffcc,10px 8px #ccffcc,11px 8px #ccffcc,12px 8px #ccffcc,13px 8px #ccffcc,14px 8px #ccffcc,2px 9px #ccffcc,3px 9px #ccffcc,4px 9px #ccffcc,5px 9px #ccffcc,6px 9px #ccffcc,7px 9px #ccffcc,8px 9px #ccffcc,9px 9px #ccffcc,10px 9px #ccffcc,11px 9px #ccffcc,12px 9px #ccffcc,13px 9px #ccffcc,14px 9px #ccffcc,3px 10px #ccffcc,4px 10px #ccffcc,7px 10px #ccffcc,8px 10px #ccffcc,9px 10px #ccffcc,12px 10px #ccffcc,13px 10px #ccffcc,7px 11px #ccffcc,8px 11px #ccffcc,9px 11px #ccffcc,7px 12px #ccffcc,8px 12px #ccffcc,9px 12px #ccffcc,7px 13px #ccffcc,8px 13px #ccffcc,9px 13px #ccffcc,7px 14px #ccffcc,8px 14px #ccffcc,9px 14px #ccffcc,1px 8px #009900,15px 8px #009900,1px 9px #009900,15px 9px #009900,2px 10px #009900,5px 10px #009900,6px 10px #009900,10px 10px #009900,11px 10px #009900,14px 10px #009900,3px 11px #009900,4px 11px #009900,6px 11px #009900,10px 11px #009900,12px 11px #009900,13px 11px #009900,6px 12px #009900,10px 12px #009900,6px 13px #009900,10px 13px #009900,6px 14px #009900,10px 14px #009900,6px 15px #009900,7px 15px #009900,8px 15px #009900,9px 15px #009900,10px 15px #009900}.qrr{box-shadow:7px 2px #ffcccc,8px 2px #ffcccc,6px 3px #ffcccc,7px 3px #ffcccc,8px 3px #ffcccc,9px 3px #ffcccc,6px 4px #ffcccc,7px 4px #ffcccc,8px 4px #ffcccc,9px 4px #ffcccc,10px 4px #ffcccc,7px 5px #ffcccc,8px 5px #ffcccc,9px 5px #ffcccc,10px 5px #ffcccc,11px 5px #ffcccc,7px 6px #ffcccc,8px 6px #ffcccc,9px 6px #ffcccc,10px 6px #ffcccc,11px 6px #ffcccc,12px 6px #ffcccc,2px 7px #ffcccc,3px 7px #ffcccc,4px 7px #ffcccc,5px 7px #ffcccc,6px 7px #ffcccc,7px 7px #ffcccc,8px 7px #ffcccc,9px 7px #ffcccc,10px 7px #ffcccc,11px 7px #ffcccc,12px 7px #ffcccc,13px 7px #ffcccc,2px 8px #ffcccc,3px 8px #ffcccc,4px 8px #ffcccc,5px 8px #ffcccc,6px 8px #ffcccc,7px 8px #ffcccc,8px 8px #ffcccc,9px 8px #ffcccc,10px 8px #ffcccc,11px 8px #ffcccc,12px 8px #ffcccc,13px 8px #ffcccc,14px 8px #ffcccc,2px 9px #ffcccc,3px 9px #ffcccc,4px 9px #ffcccc,5px 9px #ffcccc,6px 9px #ffcccc,7px 9px #ffcccc,8px 9px #ffcccc,9px 9px #ffcccc,10px 9px #ffcccc,11px 9px #ffcccc,12px 9px #ffcccc,13px 9px #ffcccc,7px 10px #ffcccc,8px 10px #ffcccc,9px 10px #ffcccc,10px 10px #ffcccc,11px 10px #ffcccc,12px 10px #ffcccc,7px 11px #ffcccc,8px 11px #ffcccc,9px 11px #ffcccc,10px 11px #ffcccc,11px 11px #ffcccc,6px 12px #ffcccc,7px 12px #ffcccc,8px 12px #ffcccc,9px 12px #ffcccc,10px 12px #ffcccc,6px 13px #ffcccc,7px 13px #ffcccc,8px 13px #ffcccc,9px 13px #ffcccc,7px 14px #ffcccc,8px 14px #ffcccc,7px 1px #cc0000,8px 1px #cc0000,6px 2px #cc0000,9px 2px #cc0000,5px 3px #cc0000,10px 3px #cc0000,5px 4px #cc0000,11px 4px #cc0000,6px 5px #cc0000,12px 5px #cc0000,1px 6px #cc0000,2px 6px #cc0000,3px 6px #cc0000,4px 6px #cc0000,5px 6px #cc0000,6px 6px #cc0000,13px 6px #cc0000,1px 7px #cc0000,14px 7px #cc0000,1px 8px #cc0000,15px 8px #cc0000,1px 9px #cc0000,14px 9px #cc0000,1px 10px #cc0000,2px 10px #cc0000,3px 10px #cc0000,4px 10px #cc0000,5px 10px #cc0000,6px 10px #cc0000,13px 10px #cc0000,6px 11px #cc0000,12px 11px #cc0000,5px 12px #cc0000,11px 12px #cc0000,5px 13px #cc0000,10px 13px #cc0000,6px 14px #cc0000,9px 14px #cc0000,7px 15px #cc0000,8px 15px #cc0000}.qrb{box-shadow:7px 2px #99ccff,8px 2px #99ccff,6px 3px #99ccff,7px 3px #99ccff,8px 3px #99ccff,9px 3px #99ccff,6px 4px #99ccff,7px 4px #99ccff,8px 4px #99ccff,9px 4px #99ccff,10px 4px #99ccff,7px 5px #99ccff,8px 5px #99ccff,9px 5px #99ccff,10px 5px #99ccff,11px 5px #99ccff,7px 6px #99ccff,8px 6px #99ccff,9px 6px #99ccff,10px 6px #99ccff,11px 6px #99ccff,12px 6px #99ccff,2px 7px #99ccff,3px 7px #99ccff,4px 7px #99ccff,5px 7px #99ccff,6px 7px #99ccff,7px 7px #99ccff,8px 7px #99ccff,9px 7px #99ccff,10px 7px #99ccff,11px 7px #99ccff,12px 7px #99ccff,13px 7px #99ccff,2px 8px #99ccff,3px 8px #99ccff,4px 8px #99ccff,5px 8px #99ccff,6px 8px #99ccff,7px 8px #99ccff,8px 8px #99ccff,9px 8px #99ccff,10px 8px #99ccff,11px 8px #99ccff,12px 8px #99ccff,13px 8px #99ccff,14px 8px #99ccff,2px 9px #99ccff,3px 9px #99ccff,4px 9px #99ccff,5px 9px #99ccff,6px 9px #99ccff,7px 9px #99ccff,8px 9px #99ccff,9px 9px #99ccff,10px 9px #99ccff,11px 9px #99ccff,12px 9px #99ccff,13px 9px #99ccff,7px 10px #99ccff,8px 10px #99ccff,9px 10px #99ccff,10px 10px #99ccff,11px 10px #99ccff,12px 10px #99ccff,7px 11px #99ccff,8px 11px #99ccff,9px 11px #99ccff,10px 11px #99ccff,11px 11px #99ccff,6px 12px #99ccff,7px 12px #99ccff,8px 12px #99ccff,9px 12px #99ccff,10px 12px #99ccff,6px 13px #99ccff,7px 13px #99ccff,8px 13px #99ccff,9px 13px #99ccff,7px 14px #99ccff,8px 14px #99ccff,7px 1px #0066cc,8px 1px #0066cc,6px 2px #0066cc,9px 2px #0066cc,5px 3px #0066cc,10px 3px #0066cc,5px 4px #0066cc,11px 4px #0066cc,6px 5px #0066cc,12px 5px #0066cc,1px 6px #0066cc,2px 6px #0066cc,3px 6px #0066cc,4px 6px #0066cc,5px 6px #0066cc,6px 6px #0066cc,13px 6px #0066cc,1px 7px #0066cc,14px 7px #0066cc,1px 8px #0066cc,15px 8px #0066cc,1px 9px #0066cc,14px 9px #0066cc,1px 10px #0066cc,2px 10px #0066cc,3px 10px #0066cc,4px 10px #0066cc,5px 10px #0066cc,6px 10px #0066cc,13px 10px #0066cc,6px 11px #0066cc,12px 11px #0066cc,5px 12px #0066cc,11px 12px #0066cc,5px 13px #0066cc,10px 13px #0066cc,6px 14px #0066cc,9px 14px #0066cc,7px 15px #0066cc,8px 15px #0066cc}.qrg{box-shadow:7px 2px #66ff66,8px 2px #66ff66,6px 3px #66ff66,7px 3px #66ff66,8px 3px #66ff66,9px 3px #66ff66,6px 4px #66ff66,7px 4px #66ff66,8px 4px #66ff66,9px 4px #66ff66,10px 4px #66ff66,7px 5px #66ff66,8px 5px #66ff66,9px 5px #66ff66,10px 5px #66ff66,11px 5px #66ff66,7px 6px #66ff66,8px 6px #66ff66,9px 6px #66ff66,10px 6px #66ff66,11px 6px #66ff66,12px 6px #66ff66,2px 7px #66ff66,3px 7px #66ff66,4px 7px #66ff66,5px 7px #66ff66,6px 7px #66ff66,7px 7px #66ff66,8px 7px #66ff66,9px 7px #66ff66,10px 7px #66ff66,11px 7px #66ff66,12px 7px #66ff66,13px 7px #66ff66,2px 8px #66ff66,3px 8px #66ff66,4px 8px #66ff66,5px 8px #66ff66,6px 8px #66ff66,7px 8px #66ff66,8px 8px #66ff66,9px 8px #66ff66,10px 8px #66ff66,11px 8px #66ff66,12px 8px #66ff66,13px 8px #66ff66,14px 8px #66ff66,2px 9px #66ff66,3px 9px #66ff66,4px 9px #66ff66,5px 9px #66ff66,6px 9px #66ff66,7px 9px #66ff66,8px 9px #66ff66,9px 9px #66ff66,10px 9px #66ff66,11px 9px #66ff66,12px 9px #66ff66,13px 9px #66ff66,7px 10px #66ff66,8px 10px #66ff66,9px 10px #66ff66,10px 10px #66ff66,11px 10px #66ff66,12px 10px #66ff66,7px 11px #66ff66,8px 11px #66ff66,9px 11px #66ff66,10px 11px #66ff66,11px 11px #66ff66,6px 12px #66ff66,7px 12px #66ff66,8px 12px #66ff66,9px 12px #66ff66,10px 12px #66ff66,6px 13px #66ff66,7px 13px #66ff66,8px 13px #66ff66,9px 13px #66ff66,7px 14px #66ff66,8px 14px #66ff66,7px 1px #009900,8px 1px #009900,6px 2px #009900,9px 2px #009900,5px 3px #009900,10px 3px #009900,5px 4px #009900,11px 4px #009900,6px 5px #009900,12px 5px #009900,1px 6px #009900,2px 6px #009900,3px 6px #009900,4px 6px #009900,5px 6px #009900,6px 6px #009900,13px 6px #009900,1px 7px #009900,14px 7px #009900,1px 8px #009900,15px 8px #009900,1px 9px #009900,14px 9px #009900,1px 10px #009900,2px 10px #009900,3px 10px #009900,4px 10px #009900,5px 10px #009900,6px 10px #009900,13px 10px #009900,6px 11px #009900,12px 11px #009900,5px 12px #009900,11px 12px #009900,5px 13px #009900,10px 13px #009900,6px 14px #009900,9px 14px #009900,7px 15px #009900,8px 15px #009900}.qrp{box-shadow:7px 2px #ffccff,8px 2px #ffccff,6px 3px #ffccff,7px 3px #ffccff,8px 3px #ffccff,9px 3px #ffccff,6px 4px #ffccff,7px 4px #ffccff,8px 4px #ffccff,9px 4px #ffccff,10px 4px #ffccff,7px 5px #ffccff,8px 5px #ffccff,9px 5px #ffccff,10px 5px #ffccff,11px 5px #ffccff,7px 6px #ffccff,8px 6px #ffccff,9px 6px #ffccff,10px 6px #ffccff,11px 6px #ffccff,12px 6px #ffccff,2px 7px #ffccff,3px 7px #ffccff,4px 7px #ffccff,5px 7px #ffccff,6px 7px #ffccff,7px 7px #ffccff,8px 7px #ffccff,9px 7px #ffccff,10px 7px #ffccff,11px 7px #ffccff,12px 7px #ffccff,13px 7px #ffccff,2px 8px #ffccff,3px 8px #ffccff,4px 8px #ffccff,5px 8px #ffccff,6px 8px #ffccff,7px 8px #ffccff,8px 8px #ffccff,9px 8px #ffccff,10px 8px #ffccff,11px 8px #ffccff,12px 8px #ffccff,13px 8px #ffccff,14px 8px #ffccff,2px 9px #ffccff,3px 9px #ffccff,4px 9px #ffccff,5px 9px #ffccff,6px 9px #ffccff,7px 9px #ffccff,8px 9px #ffccff,9px 9px #ffccff,10px 9px #ffccff,11px 9px #ffccff,12px 9px #ffccff,13px 9px #ffccff,7px 10px #ffccff,8px 10px #ffccff,9px 10px #ffccff,10px 10px #ffccff,11px 10px #ffccff,12px 10px #ffccff,7px 11px #ffccff,8px 11px #ffccff,9px 11px #ffccff,10px 11px #ffccff,11px 11px #ffccff,6px 12px #ffccff,7px 12px #ffccff,8px 12px #ffccff,9px 12px #ffccff,10px 12px #ffccff,6px 13px #ffccff,7px 13px #ffccff,8px 13px #ffccff,9px 13px #ffccff,7px 14px #ffccff,8px 14px #ffccff,7px 1px #993399,8px 1px #993399,6px 2px #993399,9px 2px #993399,5px 3px #993399,10px 3px #993399,5px 4px #993399,11px 4px #993399,6px 5px #993399,12px 5px #993399,1px 6px #993399,2px 6px #993399,3px 6px #993399,4px 6px #993399,5px 6px #993399,6px 6px #993399,13px 6px #993399,1px 7px #993399,14px 7px #993399,1px 8px #993399,15px 8px #993399,1px 9px #993399,14px 9px #993399,1px 10px #993399,2px 10px #993399,3px 10px #993399,4px 10px #993399,5px 10px #993399,6px 10px #993399,13px 10px #993399,6px 11px #993399,12px 11px #993399,5px 12px #993399,11px 12px #993399,5px 13px #993399,10px 13px #993399,6px 14px #993399,9px 14px #993399,7px 15px #993399,8px 15px #993399}.qry{box-shadow:7px 2px #ffff66,8px 2px #ffff66,6px 3px #ffff66,7px 3px #ffff66,8px 3px #ffff66,9px 3px #ffff66,6px 4px #ffff66,7px 4px #ffff66,8px 4px #ffff66,9px 4px #ffff66,10px 4px #ffff66,7px 5px #ffff66,8px 5px #ffff66,9px 5px #ffff66,10px 5px #ffff66,11px 5px #ffff66,7px 6px #ffff66,8px 6px #ffff66,9px 6px #ffff66,10px 6px #ffff66,11px 6px #ffff66,12px 6px #ffff66,2px 7px #ffff66,3px 7px #ffff66,4px 7px #ffff66,5px 7px #ffff66,6px 7px #ffff66,7px 7px #ffff66,8px 7px #ffff66,9px 7px #ffff66,10px 7px #ffff66,11px 7px #ffff66,12px 7px #ffff66,13px 7px #ffff66,2px 8px #ffff66,3px 8px #ffff66,4px 8px #ffff66,5px 8px #ffff66,6px 8px #ffff66,7px 8px #ffff66,8px 8px #ffff66,9px 8px #ffff66,10px 8px #ffff66,11px 8px #ffff66,12px 8px #ffff66,13px 8px #ffff66,14px 8px #ffff66,2px 9px #ffff66,3px 9px #ffff66,4px 9px #ffff66,5px 9px #ffff66,6px 9px #ffff66,7px 9px #ffff66,8px 9px #ffff66,9px 9px #ffff66,10px 9px #ffff66,11px 9px #ffff66,12px 9px #ffff66,13px 9px #ffff66,7px 10px #ffff66,8px 10px #ffff66,9px 10px #ffff66,10px 10px #ffff66,11px 10px #ffff66,12px 10px #ffff66,7px 11px #ffff66,8px 11px #ffff66,9px 11px #ffff66,10px 11px #ffff66,11px 11px #ffff66,6px 12px #ffff66,7px 12px #ffff66,8px 12px #ffff66,9px 12px #ffff66,10px 12px #ffff66,6px 13px #ffff66,7px 13px #ffff66,8px 13px #ffff66,9px 13px #ffff66,7px 14px #ffff66,8px 14px #ffff66,7px 1px #999900,8px 1px #999900,6px 2px #999900,9px 2px #999900,5px 3px #999900,10px 3px #999900,5px 4px #999900,11px 4px #999900,6px 5px #999900,12px 5px #999900,1px 6px #999900,2px 6px #999900,3px 6px #999900,4px 6px #999900,5px 6px #999900,6px 6px #999900,13px 6px #999900,1px 7px #999900,14px 7px #999900,1px 8px #999900,15px 8px #999900,1px 9px #999900,14px 9px #999900,1px 10px #999900,2px 10px #999900,3px 10px #999900,4px 10px #999900,5px 10px #999900,6px 10px #999900,13px 10px #999900,6px 11px #999900,12px 11px #999900,5px 12px #999900,11px 12px #999900,5px 13px #999900,10px 13px #999900,6px 14px #999900,9px 14px #999900,7px 15px #999900,8px 15px #999900}.zr{box-shadow:2px 8px #ccffcc,3px 8px #ccffcc,4px 8px #ccffcc,5px 8px #ccffcc,6px 8px #ccffcc,7px 8px #ccffcc,8px 8px #ccffcc,9px 8px #ccffcc,10px 8px #ccffcc,11px 8px #ccffcc,12px 8px #ccffcc,13px 8px #ccffcc,14px 8px #ccffcc,2px 9px #ccffcc,3px 9px #ccffcc,4px 9px #ccffcc,5px 9px #ccffcc,6px 9px #ccffcc,7px 9px #ccffcc,8px 9px #ccffcc,9px 9px #ccffcc,10px 9px #ccffcc,11px 9px #ccffcc,12px 9px #ccffcc,13px 9px #ccffcc,7px 10px #ccffcc,8px 10px #ccffcc,9px 10px #ccffcc,10px 10px #ccffcc,11px 10px #ccffcc,12px 10px #ccffcc,7px 11px #ccffcc,8px 11px #ccffcc,9px 11px #ccffcc,10px 11px #ccffcc,11px 11px #ccffcc,6px 12px #ccffcc,7px 12px #ccffcc,8px 12px #ccffcc,9px 12px #ccffcc,10px 12px #ccffcc,6px 13px #ccffcc,7px 13px #ccffcc,8px 13px #ccffcc,9px 13px #ccffcc,7px 14px #ccffcc,8px 14px #ccffcc,1px 8px #009900,15px 8px #009900,1px 9px #009900,14px 9px #009900,1px 10px #009900,2px 10px #009900,3px 10px #009900,4px 10px #009900,5px 10px #009900,6px 10px #009900,13px 10px #009900,6px 11px #009900,12px 11px #009900,5px 12px #009900,11px 12px #009900,5px 13px #009900,10px 13px #009900,6px 14px #009900,9px 14px #009900,7px 15px #009900,8px 15px #009900}
.lb{font:11px "DejaVu Sans Mono",monospace;fill:#000;stroke:#000;stroke-width:0.2px}
.lb2{font:8.4px "DejaVu Sans Mono",monospace;fill:#000;stroke:#000;stroke-width:0.25px}
.lg{position:absolute;white-space:pre;font:11px/12px "Liberation Mono",monospace;letter-spacing:-0.6px}
.bp{color:#555555}
.st{color:#0066cc}
#ft{left:8px;top:997px;font:11px/12px "Liberation Mono",monospace;letter-spacing:-0.6px}
</style></head><body>
<div class="t" id="ar">onoken</div>
<div class="t" id="ti">KUGUTSU</div>
<div class="t" id="bpm">BPM: 110 - 880 / MANIAC SINGLE / 18 feet</div>
<svg width="992" height="830" viewBox="0 0 992 830" shape-rendering="crispEdges">
<rect x="20" y="48" width="68" height="16" fill="#cccccc"/><rect x="20" y="80" width="68" height="16" fill="#cccccc"/><rect x="20" y="112" width="68" height="16" fill="#cccccc"/><rect x="20" y="144" width="68" height="16" fill="#cccccc"/><rect x="20" y="176" width="68" height="16" fill="#cccccc"/><rect x="20" y="208" width="68" height="16" fill="#cccccc"/><rect x="20" y="240" width="68" height="16" fill="#cccccc"/><rect x="20" y="272" width="68" height="16" fill="#cccccc"/><rect x="20" y="304" width="68" height="16" fill="#cccccc"/><rect x="20" y="336" width="68" height="16" fill="#cccccc"/><rect x="20" y="368" width="68" height="16" fill="#cccccc"/><rect x="20" y="400" width="68" height="16" fill="#cccccc"/><rect x="20" y="432" width="68" height="16" fill="#cccccc"/><rect x="20" y="464" width="68" height="16" fill="#cccccc"/><rect x="20" y="496" width="68" height="16" fill="#cccccc"/><rect x="20" y="528" width="68" height="16" fill="#cccccc"/><rect x="20" y="560" width="68" height="16" fill="#cccccc"/><rect x="20" y="592" width="68" height="16" fill="#cccccc"/><rect x="20" y="624" width="68" height="16" fill="#cccccc"/><rect x="20" y="656" width="68" height="16" fill="#cccccc"/><rect x="20" y="688" width="68" height="16" fill="#cccccc"/><rect x="20" y="720" width="68" height="16" fill="#cccccc"/><rect x="20" y="752" width="68" height="16" fill="#cccccc"/><rect x="20" y="784" width="68" height="16" fill="#cccccc"/><rect x="20" y="112" width="68" height="1" fill="#666666"/><rect x="20" y="176" width="68" height="1" fill="#666666"/><rect x="20" y="240" width="68" height="1" fill="#666666"/><rect x="20" y="304" width="68" height="1" fill="#666666"/><rect x="20" y="368" width="68" height="1" fill="#666666"/><rect x="20" y="432" width="68" height="1" fill="#666666"/><rect x="20" y="496" width="68" height="1" fill="#666666"/><rect x="20" y="560" width="68" height="1" fill="#666666"/><rect x="20" y="624" width="68" height="1" fill="#666666"/><rect x="20" y="688" width="68" height="1" fill="#666666"/><rect x="20" y="752" width="68" height="1" fill="#666666"/><rect x="20.5" y="48.5" width="68" height="768" fill="none" stroke="#666666"/><rect x="100" y="48" width="68" height="16" fill="#cccccc"/><rect x="100" y="80" width="68" height="16" fill="#cccccc"/><rect x="100" y="112" width="68" height="16" fill="#cccccc"/><rect x="100" y="144" width="68" height="16" fill="#cccccc"/><rect x="100" y="176" width="68" height="16" fill="#cccccc"/><rect x="100" y="208" width="68" height="16" fill="#cccccc"/><rect x="100" y="240" width="68" height="16" fill="#cccccc"/><rect x="100" y="272" width="68" height="16" fill="#cccccc"/><rect x="100" y="304" width="68" height="16" fill="#cccccc"/><rect x="100" y="336" width="68" height="16" fill="#cccccc"/><rect x="100" y="368" width="68" height="16" fill="#cccccc"/><rect x="100" y="400" width="68" height="16" fill="#cccccc"/><rect x="100" y="432" width="68" height="16" fill="#cccccc"/><rect x="100" y="464" width="68" height="16" fill="#cccccc"/><rect x="100" y="496" width="68" height="16" fill="#cccccc"/><rect x="100" y="528" width="68" height="16" fill="#cccccc"/><rect x="100" y="560" width="68" height="16" fill="#cccccc"/><rect x="100" y="592" width="68" height="16" fill="#cccccc"/><rect x="100" y="624" width="68" height="16" fill="#cccccc"/><rect x="100" y="656" width="68" height="16" fill="#cccccc"/><rect x="100" y="688" width="68" height="16" fill="#cccccc"/><rect x="100" y="720" width="68" height="16" fill="#cccccc"/><rect x="100" y="752" width="68" height="16" fill="#cccccc"/><rect x="100" y="784" width="68" height="16" fill="#cccccc"/><rect x="100" y="112" width="68" height="1" fill="#666666"/><rect x="100" y="176" width="68" height="1" fill="#666666"/><rect x="100" y="240" width="68" height="1" fill="#666666"/><rect x="100" y="304" width="68" height="1" fill="#666666"/><rect x="100" y="368" width="68" height="1" fill="#666666"/><rect x="100" y="432" width="68" height="1" fill="#666666"/><rect x="100" y="496" width="68" height="1" fill="#666666"/><rect x="100" y="560" width="68" height="1" fill="#666666"/><rect x="100" y="624" width="68" height="1" fill="#666666"/><rect x="100" y="688" width="68" height="1" fill="#666666"/><rect x="100" y="752" width="68" height="1" fill="#666666"/><rect x="100.5" y="48.5" width="68" height="768" fill="none" stroke="#666666"/><rect x="180" y="48" width="68" height="16" fill="#cccccc"/><rect x="180" y="80" width="68" height="16" fill="#cccccc"/><rect x="180" y="112" width="68" height="16" fill="#cccccc"/><rect x="180" y="144" width="68" height="16" fill="#cccccc"/><rect x="180" y="176" width="68" height="16" fill="#cccccc"/><rect x="180" y="208" width="68" height="16" fill="#cccccc"/><rect x="180" y="240" width="68" height="16" fill="#cccccc"/><rect x="180" y="272" width="68" height="16" fill="#cccccc"/><rect x="180" y="304" width="68" height="16" fill="#cccccc"/><rect x="180" y="336" width="68" height="16" fill="#cccccc"/><rect x="180" y="368" width="68" height="16" fill="#cccccc"/><rect x="180" y="400" width="68" height="16" fill="#cccccc"/><rect x="180" y="432" width="68" height="16" fill="#cccccc"/><rect x="180" y="464" width="68" height="16" fill="#cccccc"/><rect x="180" y="496" width="68" height="16" fill="#cccccc"/><rect x="180" y="528" width="68" height="16" fill="#cccccc"/><rect x="180" y="560" width="68" height="16" fill="#cccccc"/><rect x="180" y="592" width="68" height="16" fill="#cccccc"/><rect x="180" y="624" width="68" height="16" fill="#cccccc"/><rect x="180" y="656" width="68" height="16" fill="#cccccc"/><rect x="180" y="688" width="68" height="16" fill="#cccccc"/><rect x="180" y="720" width="68" height="16" fill="#cccccc"/><rect x="180" y="752" width="68" height="16" fill="#cccccc"/><rect x="180" y="784" width="68" height="16" fill="#cccccc"/><rect x="180" y="112" width="68" height="1" fill="#666666"/><rect x="180" y="176" width="68" height="1" fill="#666666"/><rect x="180" y="240" width="68" height="1" fill="#666666"/><rect x="180" y="304" width="68" height="1" fill="#666666"/><rect x="180" y="368" width="68" height="1" fill="#666666"/><rect x="180" y="432" width="68" height="1" fill="#666666"/><rect x="180" y="496" width="68" height="1" fill="#666666"/><rect x="180" y="560" width="68" height="1" fill="#666666"/><rect x="180" y="624" width="68" height="1" fill="#666666"/><rect x="180" y="688" width="68" height="1" fill="#666666"/><rect x="180" y="752" width="68" height="1" fill="#666666"/><rect x="180.5" y="48.5" width="68" height="768" fill="none" stroke="#666666"/><rect x="260" y="48" width="68" height="16" fill="#cccccc"/><rect x="260" y="80" width="68" height="16" fill="#cccccc"/><rect x="260" y="112" width="68" height="16" fill="#cccccc"/><rect x="260" y="144" width="68" height="16" fill="#cccccc"/><rect x="260" y="176" width="68" height="16" fill="#cccccc"/><rect x="260" y="208" width="68" height="16" fill="#cccccc"/><rect x="260" y="240" width="68" height="16" fill="#cccccc"/><rect x="260" y="272" width="68" height="16" fill="#cccccc"/><rect x="260" y="304" width="68" height="16" fill="#cccccc"/><rect x="260" y="336" width="68" height="16" fill="#cccccc"/><rect x="260" y="368" width="68" height="16" fill="#cccccc"/><rect x="260" y="400" width="68" height="16" fill="#cccccc"/><rect x="260" y="432" width="68" height="16" fill="#cccccc"/><rect x="260" y="464" width="68" height="16" fill="#cccccc"/><rect x="260" y="496" width="68" height="16" fill="#cccccc"/><rect x="260" y="528" width="68" height="16" fill="#cccccc"/><rect x="260" y="560" width="68" height="16" fill="#cccccc"/><rect x="260" y="592" width="68" height="16" fill="#cccccc"/><rect x="260" y="624" width="68" height="16" fill="#cccccc"/><rect x="260" y="656" width="68" height="16" fill="#cccccc"/><rect x="260" y="688" width="68" height="16" fill="#cccccc"/><rect x="260" y="720" width="68" height="16" fill="#cccccc"/><rect x="260" y="752" width="68" height="16" fill="#cccccc"/><rect x="260" y="784" width="68" height="16" fill="#cccccc"/><rect x="260" y="112" width="68" height="1" fill="#666666"/><rect x="260" y="176" width="68" height="1" fill="#666666"/><rect x="260" y="240" width="68" height="1" fill="#666666"/><rect x="260" y="304" width="68" height="1" fill="#666666"/><rect x="260" y="368" width="68" height="1" fill="#666666"/><rect x="260" y="432" width="68" height="1" fill="#666666"/><rect x="260" y="496" width="68" height="1" fill="#666666"/><rect x="260" y="560" width="68" height="1" fill="#666666"/><rect x="260" y="624" width="68" height="1" fill="#666666"/><rect x="260" y="688" width="68" height="1" fill="#666666"/><rect x="260" y="752" width="68" height="1" fill="#666666"/><rect x="260.5" y="48.5" width="68" height="768" fill="none" stroke="#666666"/><rect x="340" y="48" width="68" height="16" fill="#cccccc"/><rect x="340" y="80" width="68" height="16" fill="#cccccc"/><rect x="340" y="112" width="68" height="16" fill="#cccccc"/><rect x="340" y="144" width="68" height="16" fill="#cccccc"/><rect x="340" y="176" width="68" height="16" fill="#cccccc"/><rect x="340" y="208" width="68" height="16" fill="#cccccc"/><rect x="340" y="240" width="68" height="16" fill="#cccccc"/><rect x="340" y="272" width="68" height="16" fill="#cccccc"/><rect x="340" y="304" width="68" height="16" fill="#cccccc"/><rect x="340" y="336" width="68" height="16" fill="#cccccc"/><rect x="340" y="368" width="68" height="16" fill="#cccccc"/><rect x="340" y="400" width="68" height="16" fill="#cccccc"/><rect x="340" y="432" width="68" height="16" fill="#cccccc"/><rect x="340" y="464" width="68" height="16" fill="#cccccc"/><rect x="340" y="496" width="68" height="16" fill="#cccccc"/><rect x="340" y="528" width="68" height="16" fill="#cccccc"/><rect x="340" y="560" width="68" height="16" fill="#cccccc"/><rect x="340" y="592" width="68" height="16" fill="#cccccc"/><rect x="340" y="624" width="68" height="16" fill="#cccccc"/><rect x="340" y="656" width="68" height="16" fill="#cccccc"/><rect x="340" y="688" width="68" height="16" fill="#cccccc"/><rect x="340" y="720" width="68" height="16" fill="#cccccc"/><rect x="340" y="752" width="68" height="16" fill="#cccccc"/><rect x="340" y="784" width="68" height="16" fill="#cccccc"/><rect x="340" y="112" width="68" height="1" fill="#666666"/><rect x="340" y="176" width="68" height="1" fill="#666666"/><rect x="340" y="240" width="68" height="1" fill="#666666"/><rect x="340" y="304" width="68" height="1" fill="#666666"/><rect x="340" y="368" width="68" height="1" fill="#666666"/><rect x="340" y="432" width="68" height="1" fill="#666666"/><rect x="340" y="496" width="68" height="1" fill="#666666"/><rect x="340" y="560" width="68" height="1" fill="#666666"/><rect x="340" y="624" width="68" height="1" fill="#666666"/><rect x="340" y="688" width="68" height="1" fill="#666666"/><rect x="340" y="752" width="68" height="1" fill="#666666"/><rect x="340.5" y="48.5" width="68" height="768" fill="none" stroke="#666666"/><rect x="420" y="48" width="68" height="16" fill="#cccccc"/><rect x="420" y="80" width="68" height="16" fill="#cccccc"/><rect x="420" y="112" width="68" height="16" fill="#cccccc"/><rect x="420" y="144" width="68" height="16" fill="#cccccc"/><rect x="420" y="176" width="68" height="16" fill="#cccccc"/><rect x="420" y="208" width="68" height="16" fill="#cccccc"/><rect x="420" y="240" width="68" height="16" fill="#cccccc"/><rect x="420" y="272" width="68" height="16" fill="#cccccc"/><rect x="420" y="304" width="68" height="16" fill="#cccccc"/><rect x="420" y="336" width="68" height="16" fill="#cccccc"/><rect x="420" y="368" width="68" height="16" fill="#cccccc"/><rect x="420" y="400" width="68" height="16" fill="#cccccc"/><rect x="420" y="432" width="68" height="16" fill="#cccccc"/><rect x="420" y="464" width="68" height="16" fill="#cccccc"/><rect x="420" y="496" width="68" height="16" fill="#cccccc"/><rect x="420" y="528" width="68" height="16" fill="#cccccc"/><rect x="420" y="560" width="68" height="16" fill="#cccccc"/><rect x="420" y="592" width="68" height="16" fill="#cccccc"/><rect x="420" y="624" width="68" height="16" fill="#cccccc"/><rect x="420" y="656" width="68" height="16" fill="#cccccc"/><rect x="420" y="688" width="68" height="16" fill="#cccccc"/><rect x="420" y="720" width="68" height="16" fill="#cccccc"/><rect x="420" y="752" width="68" height="16" fill="#cccccc"/><rect x="420" y="784" width="68" height="16" fill="#cccccc"/><rect x="420" y="112" width="68" height="1" fill="#666666"/><rect x="420" y="176" width="68" height="1" fill="#666666"/><rect x="420" y="240" width="68" height="1" fill="#666666"/><rect x="420" y="304" width="68" height="1" fill="#666666"/><rect x="420" y="368" width="68" height="1" fill="#666666"/><rect x="420" y="432" width="68" height="1" fill="#666666"/><rect x="420" y="496" width="68" height="1" fill="#666666"/><rect x="420" y="560" width="68" height="1" fill="#666666"/><rect x="420" y="624" width="68" height="1" fill="#666666"/><rect x="420" y="688" width="68" height="1" fill="#666666"/><rect x="420" y="752" width="68" height="1" fill="#666666"/><rect x="420.5" y="48.5" width="68" height="768" fill="none" stroke="#666666"/><rect x="500" y="48" width="68" height="16" fill="#cccccc"/><rect x="500" y="80" width="68" height="16" fill="#cccccc"/><rect x="500" y="112" width="68" height="16" fill="#cccccc"/><rect x="500" y="144" width="68" height="16" fill="#cccccc"/><rect x="500" y="176" width="68" height="16" fill="#cccccc"/><rect x="500" y="208" width="68" height="16" fill="#cccccc"/><rect x="500" y="240" width="68" height="16" fill="#cccccc"/><rect x="500" y="272" width="68" height="16" fill="#cccccc"/><rect x="500" y="304" width="68" height="16" fill="#cccccc"/><rect x="500" y="336" width="68" height="16" fill="#cccccc"/><rect x="500" y="368" width="68" height="16" fill="#cccccc"/><rect x="500" y="400" width="68" height="16" fill="#cccccc"/><rect x="500" y="432" width="68" height="16" fill="#cccccc"/><rect x="500" y="464" width="68" height="16" fill="#cccccc"/><rect x="500" y="496" width="68" height="16" fill="#cccccc"/><rect x="500" y="528" width="68" height="16" fill="#cccccc"/><rect x="500" y="560" width="68" height="16" fill="#cccccc"/><rect x="500" y="592" width="68" height="16" fill="#cccccc"/><rect x="500" y="624" width="68" height="16" fill="#cccccc"/><rect x="500" y="656" width="68" height="16" fill="#cccccc"/><rect x="500" y="688" width="68" height="16" fill="#cccccc"/><rect x="500" y="720" width="68" height="16" fill="#cccccc"/><rect x="500" y="752" width="68" height="16" fill="#cccccc"/><rect x="500" y="784" width="68" height="16" fill="#cccccc"/><rect x="500" y="112" width="68" height="1" fill="#666666"/><rect x="500" y="176" width="68" height="1" fill="#666666"/><rect x="500" y="240" width="68" height="1" fill="#666666"/><rect x="500" y="304" width="68" height="1" fill="#666666"/><rect x="500" y="368" width="68" height="1" fill="#666666"/><rect x="500" y="432" width="68" height="1" fill="#666666"/><rect x="500" y="496" width="68" height="1" fill="#666666"/><rect x="500" y="560" width="68" height="1" fill="#666666"/><rect x="500" y="624" width="68" height="1" fill="#666666"/><rect x="500" y="688" width="68" height="1" fill="#666666"/><rect x="500" y="752" width="68" height="1" fill="#666666"/><rect x="500.5" y="48.5" width="68" height="768" fill="none" stroke="#666666"/><rect x="580" y="48" width="68" height="16" fill="#cccccc"/><rect x="580" y="80" width="68" height="16" fill="#cccccc"/><rect x="580" y="112" width="68" height="16" fill="#cccccc"/><rect x="580" y="144" width="68" height="16" fill="#cccccc"/><rect x="580" y="176" width="68" height="16" fill="#cccccc"/><rect x="580" y="208" width="68" height="16" fill="#cccccc"/><rect x="580" y="240" width="68" height="16" fill="#cccccc"/><rect x="580" y="272" width="68" height="16" fill="#cccccc"/><rect x="580" y="304" width="68" height="16" fill="#cccccc"/><rect x="580" y="336" width="68" height="16" fill="#cccccc"/><rect x="580" y="368" width="68" height="16" fill="#cccccc"/><rect x="580" y="400" width="68" height="16" fill="#cccccc"/><rect x="580" y="432" width="68" height="16" fill="#cccccc"/><rect x="580" y="464" width="68" height="16" fill="#cccccc"/><rect x="580" y="496" width="68" height="16" fill="#cccccc"/><rect x="580" y="528" width="68" height="16" fill="#cccccc"/><rect x="580" y="560" width="68" height="16" fill="#cccccc"/><rect x="580" y="592" width="68" height="16" fill="#cccccc"/><rect x="580" y="624" width="68" height="16" fill="#cccccc"/><rect x="580" y="656" width="68" height="16" fill="#cccccc"/><rect x="580" y="688" width="68" height="16" fill="#cccccc"/><rect x="580" y="720" width="68" height="16" fill="#cccccc"/><rect x="580" y="752" width="68" height="16" fill="#cccccc"/><rect x="580" y="784" width="68" height="16" fill="#cccccc"/><rect x="580" y="112" width="68" height="1" fill="#666666"/><rect x="580" y="176" width="68" height="1" fill="#666666"/><rect x="580" y="240" width="68" height="1" fill="#666666"/><rect x="580" y="304" width="68" height="1" fill="#666666"/><rect x="580" y="368" width="68" height="1" fill="#666666"/><rect x="580" y="432" width="68" height="1" fill="#666666"/><rect x="580" y="496" width="68" height="1" fill="#666666"/><rect x="580" y="560" width="68" height="1" fill="#666666"/><rect x="580" y="624" width="68" height="1" fill="#666666"/><rect x="580" y="688" width="68" height="1" fill="#666666"/><rect x="580" y="752" width="68" height="1" fill="#666666"/><rect x="580.5" y="48.5" width="68" height="768" fill="none" stroke="#666666"/><rect x="660" y="48" width="68" height="16" fill="#cccccc"/><rect x="660" y="80" width="68" height="16" fill="#cccccc"/><rect x="660" y="112" width="68" height="16" fill="#cccccc"/><rect x="660" y="144" width="68" height="16" fill="#cccccc"/><rect x="660" y="176" width="68" height="16" fill="#cccccc"/><rect x="660" y="208" width="68" height="16" fill="#cccccc"/><rect x="660" y="240" width="68" height="16" fill="#cccccc"/><rect x="660" y="272" width="68" height="16" fill="#cccccc"/><rect x="660" y="304" width="68" height="16" fill="#cccccc"/><rect x="660" y="336" width="68" height="16" fill="#cccccc"/><rect x="660" y="368" width="68" height="16" fill="#cccccc"/><rect x="660" y="400" width="68" height="16" fill="#cccccc"/><rect x="660" y="432" width="68" height="16" fill="#cccccc"/><rect x="660" y="464" width="68" height="16" fill="#cccccc"/><rect x="660" y="496" width="68" height="16" fill="#cccccc"/><rect x="660" y="528" width="68" height="16" fill="#cccccc"/><rect x="660" y="560" width="68" height="16" fill="#cccccc"/><rect x="660" y="592" width="68" height="16" fill="#cccccc"/><rect x="660" y="624" width="68" height="16" fill="#cccccc"/><rect x="660" y="656" width="68" height="16" fill="#cccccc"/><rect x="660" y="688" width="68" height="16" fill="#cccccc"/><rect x="660" y="720" width="68" height="16" fill="#cccccc"/><rect x="660" y="752" width="68" height="16" fill="#cccccc"/><rect x="660" y="784" width="68" height="16" fill="#cccccc"/><rect x="660" y="112" width="68" height="1" fill="#666666"/><rect x="660" y="176" width="68" height="1" fill="#666666"/><rect x="660" y="240" width="68" height="1" fill="#666666"/><rect x="660" y="304" width="68" height="1" fill="#666666"/><rect x="660" y="368" width="68" height="1" fill="#666666"/><rect x="660" y="432" width="68" height="1" fill="#666666"/><rect x="660" y="496" width="68" height="1" fill="#666666"/><rect x="660" y="560" width="68" height="1" fill="#666666"/><rect x="660" y="624" width="68" height="1" fill="#666666"/><rect x="660" y="688" width="68" height="1" fill="#666666"/><rect x="660" y="752" width="68" height="1" fill="#666666"/><rect x="660.5" y="48.5" width="68" height="768" fill="none" stroke="#666666"/><rect x="740" y="48" width="68" height="16" fill="#cccccc"/><rect x="740" y="80" width="68" height="16" fill="#cccccc"/><rect x="740" y="112" width="68" height="16" fill="#cccccc"/><rect x="740" y="144" width="68" height="16" fill="#cccccc"/><rect x="740" y="176" width="68" height="16" fill="#cccccc"/><rect x="740" y="208" width="68" height="16" fill="#cccccc"/><rect x="740" y="240" width="68" height="16" fill="#cccccc"/><rect x="740" y="272" width="68" height="16" fill="#cccccc"/><rect x="740" y="304" width="68" height="16" fill="#cccccc"/><rect x="740" y="336" width="68" height="16" fill="#cccccc"/><rect x="740" y="368" width="68" height="16" fill="#cccccc"/><rect x="740" y="400" width="68" height="16" fill="#cccccc"/><rect x="740" y="432" width="68" height="16" fill="#cccccc"/><rect x="740" y="464" width="68" height="16" fill="#cccccc"/><rect x="740" y="496" width="68" height="16" fill="#cccccc"/><rect x="740" y="528" width="68" height="16" fill="#cccccc"/><rect x="740" y="560" width="68" height="16" fill="#cccccc"/><rect x="740" y="592" width="68" height="16" fill="#cccccc"/><rect x="740" y="624" width="68" height="16" fill="#cccccc"/><rect x="740" y="656" width="68" height="16" fill="#cccccc"/><rect x="740" y="688" width="68" height="16" fill="#cccccc"/><rect x="740" y="720" width="68" height="16" fill="#cccccc"/><rect x="740" y="752" width="68" height="16" fill="#cccccc"/><rect x="740" y="784" width="68" height="16" fill="#cccccc"/><rect x="740" y="112" width="68" height="1" fill="#666666"/><rect x="740" y="176" width="68" height="1" fill="#666666"/><rect x="740" y="240" width="68" height="1" fill="#666666"/><rect x="740" y="304" width="68" height="1" fill="#666666"/><rect x="740" y="368" width="68" height="1" fill="#666666"/><rect x="740" y="432" width="68" height="1" fill="#666666"/><rect x="740" y="496" width="68" height="1" fill="#666666"/><rect x="740" y="560" width="68" height="1" fill="#666666"/><rect x="740" y="624" width="68" height="1" fill="#666666"/><rect x="740" y="688" width="68" height="1" fill="#666666"/><rect x="740" y="752" width="68" height="1" fill="#666666"/><rect x="740.5" y="48.5" width="68" height="768" fill="none" stroke="#666666"/><rect x="820" y="48" width="68" height="16" fill="#cccccc"/><rect x="820" y="80" width="68" height="16" fill="#cccccc"/><rect x="820" y="112" width="68" height="16" fill="#cccccc"/><rect x="820" y="144" width="68" height="16" fill="#cccccc"/><rect x="820" y="176" width="68" height="16" fill="#cccccc"/><rect x="820" y="208" width="68" height="16" fill="#cccccc"/><rect x="820" y="240" width="68" height="16" fill="#cccccc"/><rect x="820" y="272" width="68" height="16" fill="#cccccc"/><rect x="820" y="304" width="68" height="16" fill="#cccccc"/><rect x="820" y="336" width="68" height="16" fill="#cccccc"/><rect x="820" y="368" width="68" height="16" fill="#cccccc"/><rect x="820" y="400" width="68" height="16" fill="#cccccc"/><rect x="820" y="432" width="68" height="16" fill="#cccccc"/><rect x="820" y="464" width="68" height="16" fill="#cccccc"/><rect x="820" y="496" width="68" height="16" fill="#cccccc"/><rect x="820" y="528" width="68" height="16" fill="#cccccc"/><rect x="820" y="560" width="68" height="16" fill="#cccccc"/><rect x="820" y="592" width="68" height="16" fill="#cccccc"/><rect x="820" y="624" width="68" height="16" fill="#cccccc"/><rect x="820" y="656" width="68" height="16" fill="#cccccc"/><rect x="820" y="688" width="68" height="16" fill="#cccccc"/><rect x="820" y="720" width="68" height="16" fill="#cccccc"/><rect x="820" y="752" width="68" height="16" fill="#cccccc"/><rect x="820" y="784" width="68" height="16" fill="#cccccc"/><rect x="820" y="112" width="68" height="1" fill="#666666"/><rect x="820" y="176" width="68" height="1" fill="#666666"/><rect x="820" y="240" width="68" height="1" fill="#666666"/><rect x="820" y="304" width="68" height="1" fill="#666666"/><rect x="820" y="368" width="68" height="1" fill="#666666"/><rect x="820" y="432" width="68" height="1" fill="#666666"/><rect x="820" y="496" width="68" height="1" fill="#666666"/><rect x="820" y="560" width="68" height="1" fill="#666666"/><rect x="820" y="624" width="68" height="1" fill="#666666"/><rect x="820" y="688" width="68" height="1" fill="#666666"/><rect x="820" y="752" width="68" height="1" fill="#666666"/><rect x="820.5" y="48.5" width="68" height="768" fill="none" stroke="#666666"/><rect x="900" y="48" width="68" height="16" fill="#cccccc"/><rect x="900" y="80" width="68" height="16" fill="#cccccc"/><rect x="900" y="112" width="68" height="16" fill="#cccccc"/><rect x="900" y="144" width="68" height="16" fill="#cccccc"/><rect x="900" y="176" width="68" height="16" fill="#cccccc"/><rect x="900" y="208" width="68" height="16" fill="#cccccc"/><rect x="900" y="240" width="68" height="16" fill="#cccccc"/><rect x="900" y="272" width="68" height="16" fill="#cccccc"/><rect x="900" y="304" width="68" height="16" fill="#cccccc"/><rect x="900" y="336" width="68" height="16" fill="#cccccc"/><rect x="900" y="368" width="68" height="16" fill="#cccccc"/><rect x="900" y="400" width="68" height="16" fill="#cccccc"/><rect x="900" y="432" width="68" height="16" fill="#cccccc"/><rect x="900" y="464" width="68" height="16" fill="#cccccc"/><rect x="900" y="496" width="68" height="16" fill="#cccccc"/><rect x="900" y="528" width="68" height="16" fill="#cccccc"/><rect x="900" y="560" width="68" height="16" fill="#cccccc"/><rect x="900" y="592" width="68" height="16" fill="#cccccc"/><rect x="900" y="624" width="68" height="16" fill="#cccccc"/><rect x="900" y="656" width="68" height="16" fill="#cccccc"/><rect x="900" y="688" width="68" height="16" fill="#cccccc"/><rect x="900" y="720" width="68" height="16" fill="#cccccc"/><rect x="900" y="752" width="68" height="16" fill="#cccccc"/><rect x="900" y="784" width="68" height="16" fill="#cccccc"/><rect x="900" y="112" width="68" height="1" fill="#666666"/><rect x="900" y="176" width="68" height="1" fill="#666666"/><rect x="900" y="240" width="68" height="1" fill="#666666"/><rect x="900" y="304" width="68" height="1" fill="#666666"/><rect x="900" y="368" width="68" height="1" fill="#666666"/><rect x="900" y="432" width="68" height="1" fill="#666666"/><rect x="900" y="496" width="68" height="1" fill="#666666"/><rect x="900" y="560" width="68" height="1" fill="#666666"/><rect x="900" y="624" width="68" height="1" fill="#666666"/><rect x="900" y="688" width="68" height="1" fill="#666666"/><rect x="900" y="752" width="68" height="1" fill="#666666"/><rect x="900.5" y="48.5" width="68" height="768" fill="none" stroke="#666666"/><rect x="17" y="48" width="71" height="1" fill="#0066cc"/><text class="lb" text-anchor="middle" transform="translate(14.5 57) scale(0.85 1)">A</text><rect x="17" y="208" width="71" height="1" fill="#0066cc"/><text class="lb" text-anchor="middle" transform="translate(14.5 217) scale(0.85 1)">B</text><rect x="17" y="560" width="71" height="1" fill="#0066cc"/><text class="lb" text-anchor="middle" transform="translate(14.5 569) scale(0.85 1)">C</text><rect x="97" y="172" width="71" height="1" fill="#0066cc"/><text class="lb" text-anchor="middle" transform="translate(94.5 181) scale(0.85 1)">D</text><rect x="97" y="272" width="71" height="1" fill="#0066cc"/><text class="lb" text-anchor="middle" transform="translate(94.5 281) scale(0.85 1)">E</text><rect x="97" y="424" width="71" height="1" fill="#0066cc"/><text class="lb" text-anchor="middle" transform="translate(94.5 433) scale(0.85 1)">F</text><rect x="97" y="440" width="71" height="1" fill="#0066cc"/><text class="lb" text-anchor="middle" transform="translate(94.5 449) scale(0.85 1)">G</text><rect x="97" y="456" width="71" height="1" fill="#0066cc"/><text class="lb" text-anchor="middle" transform="translate(94.5 465) scale(0.85 1)">H</text><rect x="97" y="632" width="71" height="1" fill="#0066cc"/><text class="lb" text-anchor="middle" transform="translate(94.5 641) scale(0.85 1)">I</text><rect x="97" y="692" width="71" height="1" fill="#0066cc"/><text class="lb" text-anchor="middle" transform="translate(94.5 701) scale(0.85 1)">J</text><rect x="97" y="716" width="71" height="1" fill="#0066cc"/><text class="lb" text-anchor="middle" transform="translate(94.5 725) scale(0.85 1)">K</text><rect x="97" y="740" width="71" height="1" fill="#0066cc"/><text class="lb" text-anchor="middle" transform="translate(94.5 749) scale(0.85 1)">L</text><rect x="177" y="88" width="71" height="1" fill="#0066cc"/><text class="lb" text-anchor="middle" transform="translate(174.5 97) scale(0.85 1)">M</text><rect x="177" y="144" width="71" height="1" fill="#0066cc"/><text class="lb" text-anchor="middle" transform="translate(174.5 153) scale(0.85 1)">N</text><rect x="177" y="208" width="71" height="1" fill="#0066cc"/><text class="lb" text-anchor="middle" transform="translate(174.5 217) scale(0.85 1)">O</text><rect x="177" y="336" width="71" height="1" fill="#0066cc"/><text class="lb" text-anchor="middle" transform="translate(174.5 345) scale(0.85 1)">P</text><rect x="177" y="592" width="71" height="1" fill="#0066cc"/><text class="lb" text-anchor="middle" transform="translate(174.5 601) scale(0.85 1)">Q</text><rect x="257" y="304" width="71" height="1" fill="#0066cc"/><text class="lb" text-anchor="middle" transform="translate(254.5 313) scale(0.85 1)">R</text><rect x="257" y="800" width="71" height="1" fill="#0066cc"/><text class="lb" text-anchor="middle" transform="translate(254.5 809) scale(0.85 1)">S</text><rect x="417" y="320" width="71" height="1" fill="#0066cc"/><text class="lb" text-anchor="middle" transform="translate(414.5 329) scale(0.85 1)">T</text><rect x="417" y="336" width="71" height="1" fill="#0066cc"/><text class="lb" text-anchor="middle" transform="translate(414.5 345) scale(0.85 1)">U</text><rect x="417" y="352" width="71" height="1" fill="#0066cc"/><text class="lb" text-anchor="middle" transform="translate(414.5 361) scale(0.85 1)">V</text><rect x="417" y="368" width="71" height="1" fill="#0066cc"/><text class="lb" text-anchor="middle" transform="translate(414.5 377) scale(0.85 1)">W</text><rect x="417" y="440" width="71" height="1" fill="#0066cc"/><text class="lb" text-anchor="middle" transform="translate(414.5 449) scale(0.85 1)">X</text><rect x="417" y="456" width="71" height="1" fill="#0066cc"/><text class="lb" text-anchor="middle" transform="translate(414.5 465) scale(0.85 1)">Y</text><rect x="417" y="472" width="71" height="1" fill="#0066cc"/><text class="lb" text-anchor="middle" transform="translate(414.5 481) scale(0.85 1)">Z</text><rect x="417" y="488" width="71" height="1" fill="#0066cc"/><text class="lb2" text-anchor="middle" transform="translate(412.0 495) scale(0.8 1)">A</text><text class="lb2" text-anchor="middle" transform="translate(417.0 495) scale(0.8 1)">A</text><rect x="417" y="504" width="71" height="1" fill="#0066cc"/><text class="lb2" text-anchor="middle" transform="translate(412.0 511) scale(0.8 1)">A</text><text class="lb2" text-anchor="middle" transform="translate(417.0 511) scale(0.8 1)">B</text><rect x="417" y="576" width="71" height="1" fill="#0066cc"/><text class="lb2" text-anchor="middle" transform="translate(412.0 583) scale(0.8 1)">A</text><text class="lb2" text-anchor="middle" transform="translate(417.0 583) scale(0.8 1)">C</text><rect x="417" y="592" width="71" height="1" fill="#0066cc"/><text class="lb2" text-anchor="middle" transform="translate(412.0 599) scale(0.8 1)">A</text><text class="lb2" text-anchor="middle" transform="translate(417.0 599) scale(0.8 1)">D</text><rect x="417" y="608" width="71" height="1" fill="#0066cc"/><text class="lb2" text-anchor="middle" transform="translate(412.0 615) scale(0.8 1)">A</text><text class="lb2" text-anchor="middle" transform="translate(417.0 615) scale(0.8 1)">E</text><rect x="417" y="624" width="71" height="1" fill="#0066cc"/><text class="lb2" text-anchor="middle" transform="translate(412.0 631) scale(0.8 1)">A</text><text class="lb2" text-anchor="middle" transform="translate(417.0 631) scale(0.8 1)">F</text><rect x="417" y="640" width="71" height="1" fill="#0066cc"/><text class="lb2" text-anchor="middle" transform="translate(412.0 647) scale(0.8 1)">A</text><text class="lb2" text-anchor="middle" transform="translate(417.0 647) scale(0.8 1)">G</text><rect x="417" y="712" width="71" height="1" fill="#0066cc"/><text class="lb2" text-anchor="middle" transform="translate(412.0 719) scale(0.8 1)">A</text><text class="lb2" text-anchor="middle" transform="translate(417.0 719) scale(0.8 1)">H</text><rect x="417" y="728" width="71" height="1" fill="#0066cc"/><text class="lb2" text-anchor="middle" transform="translate(412.0 735) scale(0.8 1)">A</text><text class="lb2" text-anchor="middle" transform="translate(417.0 735) scale(0.8 1)">I</text><rect x="417" y="744" width="71" height="1" fill="#0066cc"/><text class="lb2" text-anchor="middle" transform="translate(412.0 751) scale(0.8 1)">A</text><text class="lb2" text-anchor="middle" transform="translate(417.0 751) scale(0.8 1)">J</text><rect x="417" y="760" width="71" height="1" fill="#0066cc"/><text class="lb2" text-anchor="middle" transform="translate(412.0 767) scale(0.8 1)">A</text><text class="lb2" text-anchor="middle" transform="translate(417.0 767) scale(0.8 1)">K</text><rect x="417" y="776" width="71" height="1" fill="#0066cc"/><text class="lb2" text-anchor="middle" transform="translate(412.0 783) scale(0.8 1)">A</text><text class="lb2" text-anchor="middle" transform="translate(417.0 783) scale(0.8 1)">L</text><rect x="497" y="80" width="71" height="1" fill="#0066cc"/><text class="lb2" text-anchor="middle" transform="translate(492.0 87) scale(0.8 1)">A</text><text class="lb2" text-anchor="middle" transform="translate(497.0 87) scale(0.8 1)">M</text><rect x="497" y="96" width="71" height="1" fill="#0066cc"/><text class="lb2" text-anchor="middle" transform="translate(492.0 103) scale(0.8 1)">A</text><text class="lb2" text-anchor="middle" transform="translate(497.0 103) scale(0.8 1)">N</text><rect x="497" y="112" width="71" height="1" fill="#0066cc"/><text class="lb2" text-anchor="middle" transform="translate(492.0 119) scale(0.8 1)">A</text><text class="lb2" text-anchor="middle" transform="translate(497.0 119) scale(0.8 1)">O</text><rect x="497" y="128" width="71" height="1" fill="#0066cc"/><text class="lb2" text-anchor="middle" transform="translate(492.0 135) scale(0.8 1)">A</text><text class="lb2" text-anchor="middle" transform="translate(497.0 135) scale(0.8 1)">P</text><rect x="497" y="304" width="71" height="1" fill="#0066cc"/><text class="lb2" text-anchor="middle" transform="translate(492.0 311) scale(0.8 1)">A</text><text class="lb2" text-anchor="middle" transform="translate(497.0 311) scale(0.8 1)">Q</text><rect x="497" y="320" width="71" height="1" fill="#0066cc"/><text class="lb2" text-anchor="middle" transform="translate(492.0 327) scale(0.8 1)">A</text><text class="lb2" text-anchor="middle" transform="translate(497.0 327) scale(0.8 1)">R</text><rect x="497" y="336" width="71" height="1" fill="#0066cc"/><text class="lb2" text-anchor="middle" transform="translate(492.0 343) scale(0.8 1)">A</text><text class="lb2" text-anchor="middle" transform="translate(497.0 343) scale(0.8 1)">S</text><rect x="497" y="496" width="71" height="1" fill="#0066cc"/><text class="lb2" text-anchor="middle" transform="translate(492.0 503) scale(0.8 1)">A</text><text class="lb2" text-anchor="middle" transform="translate(497.0 503) scale(0.8 1)">T</text><rect x="497" y="512" width="71" height="1" fill="#0066cc"/><text class="lb2" text-anchor="middle" transform="translate(492.0 519) scale(0.8 1)">A</text><text class="lb2" text-anchor="middle" transform="translate(497.0 519) scale(0.8 1)">U</text><rect x="497" y="560" width="71" height="1" fill="#0066cc"/><text class="lb2" text-anchor="middle" transform="translate(492.0 567) scale(0.8 1)">A</text><text class="lb2" text-anchor="middle" transform="translate(497.0 567) scale(0.8 1)">V</text><rect x="497" y="576" width="71" height="1" fill="#0066cc"/><text class="lb2" text-anchor="middle" transform="translate(492.0 583) scale(0.8 1)">A</text><text class="lb2" text-anchor="middle" transform="translate(497.0 583) scale(0.8 1)">W</text><rect x="497" y="624" width="71" height="1" fill="#0066cc"/><text class="lb2" text-anchor="middle" transform="translate(492.0 631) scale(0.8 1)">A</text><text class="lb2" text-anchor="middle" transform="translate(497.0 631) scale(0.8 1)">X</text><rect x="497" y="640" width="71" height="1" fill="#0066cc"/><text class="lb2" text-anchor="middle" transform="translate(492.0 647) scale(0.8 1)">A</text><text class="lb2" text-anchor="middle" transform="translate(497.0 647) scale(0.8 1)">Y</text><rect x="497" y="688" width="71" height="1" fill="#0066cc"/><text class="lb2" text-anchor="middle" transform="translate(492.0 695) scale(0.8 1)">A</text><text class="lb2" text-anchor="middle" transform="translate(497.0 695) scale(0.8 1)">Z</text><rect x="497" y="704" width="71" height="1" fill="#0066cc"/><text class="lb2" text-anchor="middle" transform="translate(492.0 711) scale(0.8 1)">B</text><text class="lb2" text-anchor="middle" transform="translate(497.0 711) scale(0.8 1)">A</text><rect x="577" y="112" width="71" height="1" fill="#0066cc"/><text class="lb2" text-anchor="middle" transform="translate(572.0 119) scale(0.8 1)">B</text><text class="lb2" text-anchor="middle" transform="translate(577.0 119) scale(0.8 1)">B</text><rect x="577" y="144" width="71" height="1" fill="#0066cc"/><text class="lb2" text-anchor="middle" transform="translate(572.0 151) scale(0.8 1)">B</text><text class="lb2" text-anchor="middle" transform="translate(577.0 151) scale(0.8 1)">C</text><rect x="577" y="160" width="71" height="1" fill="#0066cc"/><text class="lb2" text-anchor="middle" transform="translate(572.0 167) scale(0.8 1)">B</text><text class="lb2" text-anchor="middle" transform="translate(577.0 167) scale(0.8 1)">D</text><rect x="577" y="176" width="71" height="1" fill="#0066cc"/><text class="lb2" text-anchor="middle" transform="translate(572.0 183) scale(0.8 1)">B</text><text class="lb2" text-anchor="middle" transform="translate(577.0 183) scale(0.8 1)">E</text><rect x="577" y="192" width="71" height="1" fill="#0066cc"/><text class="lb2" text-anchor="middle" transform="translate(572.0 199) scale(0.8 1)">B</text><text class="lb2" text-anchor="middle" transform="translate(577.0 199) scale(0.8 1)">F</text><rect x="577" y="384" width="71" height="1" fill="#0066cc"/><text class="lb2" text-anchor="middle" transform="translate(572.0 391) scale(0.8 1)">B</text><text class="lb2" text-anchor="middle" transform="translate(577.0 391) scale(0.8 1)">G</text><rect x="577" y="392" width="71" height="1" fill="#0066cc"/><text class="lb2" text-anchor="middle" transform="translate(572.0 399) scale(0.8 1)">B</text><text class="lb2" text-anchor="middle" transform="translate(577.0 399) scale(0.8 1)">H</text><rect x="577" y="400" width="71" height="1" fill="#0066cc"/><text class="lb2" text-anchor="middle" transform="translate(572.0 407) scale(0.8 1)">B</text><text class="lb2" text-anchor="middle" transform="translate(577.0 407) scale(0.8 1)">I</text><rect x="577" y="408" width="71" height="1" fill="#0066cc"/><text class="lb2" text-anchor="middle" transform="translate(572.0 415) scale(0.8 1)">B</text><text class="lb2" text-anchor="middle" transform="translate(577.0 415) scale(0.8 1)">J</text><rect x="577" y="416" width="71" height="1" fill="#0066cc"/><text class="lb2" text-anchor="middle" transform="translate(572.0 423) scale(0.8 1)">B</text><text class="lb2" text-anchor="middle" transform="translate(577.0 423) scale(0.8 1)">K</text><rect x="577" y="608" width="71" height="1" fill="#0066cc"/><text class="lb2" text-anchor="middle" transform="translate(572.0 615) scale(0.8 1)">B</text><text class="lb2" text-anchor="middle" transform="translate(577.0 615) scale(0.8 1)">L</text><rect x="577" y="640" width="71" height="1" fill="#0066cc"/><text class="lb2" text-anchor="middle" transform="translate(572.0 647) scale(0.8 1)">B</text><text class="lb2" text-anchor="middle" transform="translate(577.0 647) scale(0.8 1)">M</text><rect x="657" y="64" width="71" height="1" fill="#0066cc"/><text class="lb2" text-anchor="middle" transform="translate(652.0 71) scale(0.8 1)">B</text><text class="lb2" text-anchor="middle" transform="translate(657.0 71) scale(0.8 1)">N</text><rect x="657" y="72" width="71" height="1" fill="#0066cc"/><text class="lb2" text-anchor="middle" transform="translate(652.0 79) scale(0.8 1)">B</text><text class="lb2" text-anchor="middle" transform="translate(657.0 79) scale(0.8 1)">O</text><rect x="657" y="80" width="71" height="1" fill="#0066cc"/><text class="lb2" text-anchor="middle" transform="translate(652.0 87) scale(0.8 1)">B</text><text class="lb2" text-anchor="middle" transform="translate(657.0 87) scale(0.8 1)">P</text><rect x="657" y="88" width="71" height="1" fill="#0066cc"/><text class="lb2" text-anchor="middle" transform="translate(652.0 95) scale(0.8 1)">B</text><text class="lb2" text-anchor="middle" transform="translate(657.0 95) scale(0.8 1)">Q</text><rect x="657" y="96" width="71" height="1" fill="#0066cc"/><text class="lb2" text-anchor="middle" transform="translate(652.0 103) scale(0.8 1)">B</text><text class="lb2" text-anchor="middle" transform="translate(657.0 103) scale(0.8 1)">R</text><rect x="657" y="288" width="71" height="1" fill="#0066cc"/><text class="lb2" text-anchor="middle" transform="translate(652.0 295) scale(0.8 1)">B</text><text class="lb2" text-anchor="middle" transform="translate(657.0 295) scale(0.8 1)">S</text><rect x="657" y="320" width="71" height="1" fill="#0066cc"/><text class="lb2" text-anchor="middle" transform="translate(652.0 327) scale(0.8 1)">B</text><text class="lb2" text-anchor="middle" transform="translate(657.0 327) scale(0.8 1)">T</text><rect x="657" y="448" width="71" height="1" fill="#0066cc"/><text class="lb2" text-anchor="middle" transform="translate(652.0 455) scale(0.8 1)">B</text><text class="lb2" text-anchor="middle" transform="translate(657.0 455) scale(0.8 1)">U</text><rect x="737" y="608" width="71" height="1" fill="#0066cc"/><text class="lb2" text-anchor="middle" transform="translate(732.0 615) scale(0.8 1)">B</text><text class="lb2" text-anchor="middle" transform="translate(737.0 615) scale(0.8 1)">V</text><rect x="737" y="648" width="71" height="1" fill="#0066cc"/><text class="lb2" text-anchor="middle" transform="translate(732.0 655) scale(0.8 1)">B</text><text class="lb2" text-anchor="middle" transform="translate(737.0 655) scale(0.8 1)">W</text><rect x="897" y="560" width="71" height="1" fill="#0066cc"/><text class="lb2" text-anchor="middle" transform="translate(892.0 567) scale(0.8 1)">B</text><text class="lb2" text-anchor="middle" transform="translate(897.0 567) scale(0.8 1)">X</text>
</svg>
<b class="fb" style="left:23px;top:88px;height:64px"></b><i class="zl" style="left:22px;top:144px"></i><b class="fb" style="left:71px;top:88px;height:64px"></b><i class="zr" style="left:70px;top:144px"></i><b class="fb" style="left:23px;top:240px;height:24px"></b><i class="zl" style="left:22px;top:256px"></i><b class="fb" style="left:71px;top:304px;height:24px"></b><i class="zr" style="left:70px;top:320px"></i><b class="fb" style="left:71px;top:568px;height:4px"></b><i class="zr" style="left:70px;top:564px"></i><b class="fb" style="left:119px;top:176px;height:4px"></b><i class="zd" style="left:118px;top:172px"></i><b class="fb" style="left:151px;top:280px;height:4px"></b><i class="zr" style="left:150px;top:276px"></i><b class="fb" style="left:135px;top:432px;height:4px"></b><i class="zu" style="left:134px;top:428px"></i><b class="fb" style="left:119px;top:448px;height:4px"></b><i class="zd" style="left:118px;top:444px"></i><b class="fb" style="left:135px;top:464px;height:4px"></b><i class="zu" style="left:134px;top:460px"></i><b class="fb" style="left:135px;top:640px;height:4px"></b><i class="zu" style="left:134px;top:636px"></i><b class="fb" style="left:151px;top:696px;height:4px"></b><i class="zr" style="left:150px;top:692px"></i><b class="fb" style="left:135px;top:720px;height:4px"></b><i class="zu" style="left:134px;top:716px"></i><b class="fb" style="left:151px;top:744px;height:4px"></b><i class="zr" style="left:150px;top:740px"></i><b class="fb" style="left:183px;top:96px;height:4px"></b><i class="zl" style="left:182px;top:92px"></i><b class="fb" style="left:199px;top:152px;height:4px"></b><i class="zd" style="left:198px;top:148px"></i><b class="fb" style="left:199px;top:216px;height:4px"></b><i class="zd" style="left:198px;top:212px"></i><b class="fb" style="left:199px;top:344px;height:64px"></b><i class="zd" style="left:198px;top:400px"></i><b class="fb" style="left:215px;top:472px;height:8px"></b><i class="zu" style="left:214px;top:472px"></i><b class="fb" style="left:263px;top:328px;height:16px"></b><i class="zl" style="left:262px;top:336px"></i><b class="fb" style="left:311px;top:328px;height:16px"></b><i class="zr" style="left:310px;top:336px"></i><b class="fb" style="left:343px;top:56px;height:16px"></b><i class="zl" style="left:342px;top:64px"></i><b class="fb" style="left:391px;top:56px;height:16px"></b><i class="zr" style="left:390px;top:64px"></i><b class="fb" style="left:375px;top:104px;height:16px"></b><i class="zu" style="left:374px;top:112px"></i><b class="fb" style="left:375px;top:152px;height:16px"></b><i class="zu" style="left:374px;top:160px"></i><b class="fb" style="left:359px;top:200px;height:16px"></b><i class="zd" style="left:358px;top:208px"></i><b class="fb" style="left:359px;top:248px;height:16px"></b><i class="zd" style="left:358px;top:256px"></i><b class="fb" style="left:391px;top:296px;height:16px"></b><i class="zr" style="left:390px;top:304px"></i><b class="fb" style="left:343px;top:344px;height:16px"></b><i class="zl" style="left:342px;top:352px"></i><b class="fb" style="left:391px;top:392px;height:16px"></b><i class="zr" style="left:390px;top:400px"></i><b class="fb" style="left:343px;top:440px;height:16px"></b><i class="zl" style="left:342px;top:448px"></i><b class="fb" style="left:375px;top:488px;height:16px"></b><i class="zu" style="left:374px;top:496px"></i><b class="fb" style="left:375px;top:536px;height:16px"></b><i class="zu" style="left:374px;top:544px"></i><b class="fb" style="left:503px;top:152px;height:32px"></b><i class="zl" style="left:502px;top:176px"></i><b class="fb" style="left:551px;top:184px;height:32px"></b><i class="zr" style="left:550px;top:208px"></i><b class="fb" style="left:519px;top:264px;height:16px"></b><i class="zd" style="left:518px;top:272px"></i><b class="fb" style="left:535px;top:264px;height:16px"></b><i class="zu" style="left:534px;top:272px"></i><b class="fb" style="left:519px;top:360px;height:16px"></b><i class="zd" style="left:518px;top:368px"></i><b class="fb" style="left:551px;top:392px;height:16px"></b><i class="zr" style="left:550px;top:400px"></i><b class="fb" style="left:503px;top:504px;height:4px"></b><i class="zl" style="left:502px;top:500px"></i><b class="fb" style="left:535px;top:504px;height:4px"></b><i class="zu" style="left:534px;top:500px"></i><b class="fb" style="left:519px;top:568px;height:4px"></b><i class="zd" style="left:518px;top:564px"></i><b class="fb" style="left:551px;top:568px;height:4px"></b><i class="zr" style="left:550px;top:564px"></i><b class="fb" style="left:503px;top:632px;height:4px"></b><i class="zl" style="left:502px;top:628px"></i><b class="fb" style="left:519px;top:632px;height:4px"></b><i class="zd" style="left:518px;top:628px"></i><b class="fb" style="left:535px;top:696px;height:4px"></b><i class="zu" style="left:534px;top:692px"></i><b class="fb" style="left:551px;top:696px;height:4px"></b><i class="zr" style="left:550px;top:692px"></i><b class="fb" style="left:551px;top:760px;height:16px"></b><i class="zr" style="left:550px;top:768px"></i><b class="fb" style="left:503px;top:792px;height:16px"></b><i class="zl" style="left:502px;top:800px"></i><b class="fb" style="left:631px;top:56px;height:16px"></b><i class="zr" style="left:630px;top:64px"></i><b class="fb" style="left:583px;top:88px;height:16px"></b><i class="zl" style="left:582px;top:96px"></i><b class="fb" style="left:599px;top:120px;height:72px"></b><i class="zd" style="left:598px;top:184px"></i><b class="fb" style="left:615px;top:120px;height:72px"></b><i class="zu" style="left:614px;top:184px"></i><b class="fb" style="left:615px;top:416px;height:8px"></b><i class="zu" style="left:614px;top:416px"></i><b class="fb" style="left:631px;top:632px;height:8px"></b><i class="zr" style="left:630px;top:632px"></i><b class="fb" style="left:583px;top:640px;height:8px"></b><i class="zl" style="left:582px;top:640px"></i><b class="fb" style="left:583px;top:680px;height:16px"></b><i class="zl" style="left:582px;top:688px"></i><b class="fb" style="left:711px;top:96px;height:8px"></b><i class="zr" style="left:710px;top:96px"></i><b class="fb" style="left:695px;top:312px;height:8px"></b><i class="zu" style="left:694px;top:312px"></i><b class="fb" style="left:663px;top:328px;height:112px"></b><i class="zl" style="left:662px;top:432px"></i><b class="fb" style="left:711px;top:328px;height:112px"></b><i class="zr" style="left:710px;top:432px"></i><b class="fb" style="left:743px;top:136px;height:16px"></b><i class="zl" style="left:742px;top:144px"></i><b class="fb" style="left:759px;top:168px;height:16px"></b><i class="zd" style="left:758px;top:176px"></i><b class="fb" style="left:935px;top:176px;height:56px"></b><i class="zu" style="left:934px;top:224px"></i><b class="fb" style="left:951px;top:184px;height:48px"></b><i class="zr" style="left:950px;top:224px"></i><b class="fb" style="left:903px;top:312px;height:48px"></b><i class="zl" style="left:902px;top:352px"></i><b class="fb" style="left:919px;top:312px;height:48px"></b><i class="zd" style="left:918px;top:352px"></i><b class="fb" style="left:935px;top:440px;height:48px"></b><i class="zu" style="left:934px;top:480px"></i><b class="fb" style="left:951px;top:440px;height:48px"></b><i class="zr" style="left:950px;top:480px"></i><b class="fb" style="left:903px;top:568px;height:192px"></b><i class="zl" style="left:902px;top:752px"></i><b class="fb" style="left:951px;top:568px;height:192px"></b><i class="zr" style="left:950px;top:752px"></i><i class="qlr" style="left:22px;top:80px"></i><i class="qrr" style="left:70px;top:80px"></i><i class="qlr" style="left:22px;top:208px"></i><i class="qlp" style="left:22px;top:220px"></i><i class="qlb" style="left:22px;top:232px"></i><i class="qdr" style="left:38px;top:256px"></i><i class="qub" style="left:54px;top:264px"></i><i class="qrr" style="left:70px;top:272px"></i><i class="qrp" style="left:70px;top:284px"></i><i class="qrb" style="left:70px;top:296px"></i><i class="qur" style="left:54px;top:320px"></i><i class="qdb" style="left:38px;top:328px"></i><i class="qlr" style="left:22px;top:336px"></i><i class="qlb" style="left:22px;top:344px"></i><i class="qur" style="left:54px;top:352px"></i><i class="qdb" style="left:38px;top:360px"></i><i class="qrr" style="left:70px;top:368px"></i><i class="qrb" style="left:70px;top:376px"></i><i class="qdr" style="left:38px;top:384px"></i><i class="qub" style="left:54px;top:392px"></i><i class="qlr" style="left:22px;top:400px"></i><i class="qdb" style="left:38px;top:408px"></i><i class="qur" style="left:54px;top:416px"></i><i class="qrb" style="left:70px;top:424px"></i><i class="qdr" style="left:38px;top:432px"></i><i class="qdb" style="left:38px;top:440px"></i><i class="qur" style="left:54px;top:448px"></i><i class="qub" style="left:54px;top:456px"></i><i class="qlr" style="left:22px;top:464px"></i><i class="qrb" style="left:70px;top:472px"></i><i class="qur" style="left:54px;top:480px"></i><i class="qdb" style="left:38px;top:488px"></i><i class="qlr" style="left:22px;top:496px"></i><i class="qlp" style="left:22px;top:508px"></i><i class="qlb" style="left:22px;top:520px"></i><i class="qur" style="left:54px;top:528px"></i><i class="qdb" style="left:38px;top:536px"></i><i class="qrr" style="left:70px;top:544px"></i><i class="qlb" style="left:22px;top:552px"></i><i class="qrr" style="left:70px;top:560px"></i><i class="qlb" style="left:22px;top:568px"></i><i class="qdr" style="left:38px;top:576px"></i><i class="qub" style="left:54px;top:584px"></i><i class="qrr" style="left:70px;top:592px"></i><i class="qdb" style="left:38px;top:600px"></i><i class="qur" style="left:54px;top:608px"></i><i class="qup" style="left:54px;top:620px"></i><i class="qur" style="left:134px;top:48px"></i><i class="qdg" style="left:118px;top:53px"></i><i class="qug" style="left:134px;top:59px"></i><i class="qrr" style="left:150px;top:64px"></i><i class="qdb" style="left:118px;top:72px"></i><i class="qur" style="left:134px;top:80px"></i><i class="qlb" style="left:102px;top:88px"></i><i class="qrr" style="left:150px;top:96px"></i><i class="qrp" style="left:150px;top:108px"></i><i class="qrb" style="left:150px;top:120px"></i><i class="qur" style="left:134px;top:128px"></i><i class="qrp" style="left:150px;top:132px"></i><i class="qdb" style="left:118px;top:136px"></i><i class="qur" style="left:134px;top:144px"></i><i class="qlb" style="left:102px;top:152px"></i><i class="qrr" style="left:150px;top:160px"></i><i class="qup" style="left:134px;top:164px"></i><i class="qdb" style="left:118px;top:168px"></i><i class="qur" style="left:134px;top:176px"></i><i class="qub" style="left:134px;top:184px"></i><i class="qdr" style="left:118px;top:192px"></i><i class="qlb" style="left:102px;top:200px"></i><i class="qur" style="left:134px;top:208px"></i><i class="qdp" style="left:118px;top:220px"></i><i class="qup" style="left:134px;top:220px"></i><i class="qdb" style="left:118px;top:232px"></i><i class="qrb" style="left:150px;top:232px"></i><i class="qrr" style="left:150px;top:240px"></i><i class="qlb" style="left:102px;top:248px"></i><i class="qdr" style="left:118px;top:256px"></i><i class="qub" style="left:134px;top:264px"></i><i class="qrr" style="left:150px;top:272px"></i><i class="qlb" style="left:102px;top:280px"></i><i class="qur" style="left:134px;top:288px"></i><i class="qdb" style="left:118px;top:296px"></i><i class="qrr" style="left:150px;top:304px"></i><i class="qub" style="left:134px;top:312px"></i><i class="qdr" style="left:118px;top:320px"></i><i class="qlp" style="left:102px;top:332px"></i><i class="qdp" style="left:118px;top:332px"></i><i class="qlb" style="left:102px;top:344px"></i><i class="qrb" style="left:150px;top:344px"></i><i class="qrr" style="left:150px;top:352px"></i><i class="qdp" style="left:118px;top:356px"></i><i class="qub" style="left:134px;top:360px"></i><i class="qlr" style="left:102px;top:368px"></i><i class="qup" style="left:134px;top:372px"></i><i class="qdb" style="left:118px;top:376px"></i><i class="qrr" style="left:150px;top:384px"></i><i class="qub" style="left:134px;top:392px"></i><i class="qdr" style="left:118px;top:400px"></i><i class="qlb" style="left:102px;top:408px"></i><i class="qur" style="left:134px;top:416px"></i><i class="qub" style="left:134px;top:424px"></i><i class="qdr" style="left:118px;top:432px"></i><i class="qdb" style="left:118px;top:440px"></i><i class="qur" style="left:134px;top:448px"></i><i class="qub" style="left:134px;top:456px"></i><i class="qlr" style="left:102px;top:464px"></i><i class="qrb" style="left:150px;top:472px"></i><i class="qdr" style="left:118px;top:480px"></i><i class="qlb" style="left:102px;top:488px"></i><i class="qlg" style="left:102px;top:499px"></i><i class="qdb" style="left:118px;top:504px"></i><i class="qdg" style="left:118px;top:515px"></i><i class="qrb" style="left:150px;top:520px"></i><i class="qug" style="left:134px;top:525px"></i><i class="qrg" style="left:150px;top:531px"></i><i class="qub" style="left:134px;top:536px"></i><i class="qrg" style="left:150px;top:541px"></i><i class="qug" style="left:134px;top:547px"></i><i class="qdb" style="left:118px;top:552px"></i><i class="qlr" style="left:102px;top:560px"></i><i class="qup" style="left:134px;top:564px"></i><i class="qup" style="left:134px;top:572px"></i><i class="qlr" style="left:102px;top:576px"></i><i class="qrb" style="left:150px;top:584px"></i><i class="qur" style="left:134px;top:592px"></i><i class="qdb" style="left:118px;top:600px"></i><i class="qlr" style="left:102px;top:608px"></i><i class="qub" style="left:134px;top:616px"></i><i class="qdr" style="left:118px;top:624px"></i><i class="qub" style="left:54px;top:632px"></i><i class="qdr" style="left:38px;top:640px"></i><i class="qrp" style="left:70px;top:644px"></i><i class="qlr" style="left:22px;top:656px"></i><i class="qrp" style="left:70px;top:660px"></i><i class="qdr" style="left:38px;top:672px"></i><i class="qrp" style="left:70px;top:676px"></i><i class="qdb" style="left:38px;top:680px"></i><i class="qur" style="left:54px;top:688px"></i><i class="qlp" style="left:22px;top:692px"></i><i class="qub" style="left:54px;top:696px"></i><i class="qlr" style="left:22px;top:704px"></i><i class="qdb" style="left:38px;top:712px"></i><i class="qur" style="left:54px;top:720px"></i><i class="qrb" style="left:70px;top:728px"></i><i class="qdr" style="left:38px;top:736px"></i><i class="qdp" style="left:38px;top:748px"></i><i class="qdb" style="left:38px;top:760px"></i><i class="qur" style="left:54px;top:768px"></i><i class="qug" style="left:54px;top:779px"></i><i class="qlr" style="left:22px;top:784px"></i><i class="qlg" style="left:22px;top:795px"></i><i class="qdr" style="left:38px;top:800px"></i><i class="qdg" style="left:38px;top:811px"></i><i class="qub" style="left:134px;top:632px"></i><i class="qlr" style="left:102px;top:640px"></i><i class="qdb" style="left:118px;top:648px"></i><i class="qrr" style="left:150px;top:656px"></i><i class="qdb" style="left:118px;top:664px"></i><i class="qlr" style="left:102px;top:672px"></i><i class="qup" style="left:134px;top:676px"></i><i class="qlb" style="left:102px;top:680px"></i><i class="qrr" style="left:150px;top:688px"></i><i class="qdb" style="left:118px;top:696px"></i><i class="qup" style="left:134px;top:700px"></i><i class="qdr" style="left:118px;top:704px"></i><i class="qub" style="left:134px;top:712px"></i><i class="qlr" style="left:102px;top:720px"></i><i class="qdp" style="left:118px;top:724px"></i><i class="qlb" style="left:102px;top:728px"></i><i class="qrr" style="left:150px;top:736px"></i><i class="qub" style="left:134px;top:744px"></i><i class="qdr" style="left:118px;top:752px"></i><i class="qlb" style="left:102px;top:760px"></i><i class="qug" style="left:134px;top:765px"></i><i class="qdg" style="left:118px;top:771px"></i><i class="qrb" style="left:150px;top:776px"></i><i class="qrg" style="left:150px;top:787px"></i><i class="qub" style="left:134px;top:792px"></i><i class="qug" style="left:134px;top:803px"></i><i class="qlb" style="left:102px;top:808px"></i><i class="qur" style="left:214px;top:48px"></i><i class="qrp" style="left:230px;top:52px"></i><i class="qub" style="left:214px;top:56px"></i><i class="qdr" style="left:198px;top:64px"></i><i class="qlb" style="left:182px;top:72px"></i><i class="qup" style="left:214px;top:76px"></i><i class="qup" style="left:214px;top:84px"></i><i class="qlb" style="left:182px;top:88px"></i><i class="qrr" style="left:230px;top:96px"></i><i class="qup" style="left:214px;top:100px"></i><i class="qdb" style="left:198px;top:104px"></i><i class="qlr" style="left:182px;top:112px"></i><i class="qdp" style="left:198px;top:116px"></i><i class="qub" style="left:214px;top:120px"></i><i class="qrr" style="left:230px;top:128px"></i><i class="qdb" style="left:198px;top:136px"></i><i class="qup" style="left:214px;top:140px"></i><i class="qdr" style="left:198px;top:144px"></i><i class="qrb" style="left:230px;top:152px"></i><i class="qlr" style="left:182px;top:160px"></i><i class="qdg" style="left:198px;top:165px"></i><i class="qug" style="left:214px;top:171px"></i><i class="qrr" style="left:230px;top:176px"></i><i class="qug" style="left:214px;top:181px"></i><i class="qdg" style="left:198px;top:187px"></i><i class="qlr" style="left:182px;top:192px"></i><i class="qub" style="left:214px;top:200px"></i><i class="qdr" style="left:198px;top:208px"></i><i class="qrb" style="left:230px;top:216px"></i><i class="qrr" style="left:230px;top:224px"></i><i class="qlb" style="left:182px;top:232px"></i><i class="qlr" style="left:182px;top:240px"></i><i class="qub" style="left:214px;top:248px"></i><i class="qdr" style="left:198px;top:256px"></i><i class="qrp" style="left:230px;top:260px"></i><i class="qrp" style="left:230px;top:268px"></i><i class="qdr" style="left:198px;top:272px"></i><i class="qub" style="left:214px;top:280px"></i><i class="qlr" style="left:182px;top:288px"></i><i class="qdp" style="left:198px;top:292px"></i><i class="qlb" style="left:182px;top:296px"></i><i class="qrr" style="left:230px;top:304px"></i><i class="qup" style="left:214px;top:308px"></i><i class="qrb" style="left:230px;top:312px"></i><i class="qlr" style="left:182px;top:320px"></i><i class="qup" style="left:214px;top:324px"></i><i class="qlb" style="left:182px;top:328px"></i><i class="qrp" style="left:230px;top:332px"></i><i class="qdr" style="left:198px;top:336px"></i><i class="qur" style="left:214px;top:400px"></i><i class="qub" style="left:214px;top:440px"></i><i class="qly" style="left:182px;top:442px"></i><i class="qup" style="left:214px;top:444px"></i><i class="qdr" style="left:198px;top:448px"></i><i class="qry" style="left:230px;top:450px"></i><i class="qdp" style="left:198px;top:452px"></i><i class="qrb" style="left:230px;top:456px"></i><i class="qly" style="left:182px;top:458px"></i><i class="qrp" style="left:230px;top:460px"></i><i class="qur" style="left:214px;top:464px"></i><i class="qdb" style="left:198px;top:472px"></i><i class="qrp" style="left:230px;top:476px"></i><i class="qur" style="left:214px;top:480px"></i><i class="qdb" style="left:198px;top:488px"></i><i class="qlp" style="left:182px;top:492px"></i><i class="qur" style="left:214px;top:496px"></i><i class="qdb" style="left:198px;top:504px"></i><i class="qrp" style="left:230px;top:508px"></i><i class="qlr" style="left:182px;top:512px"></i><i class="qub" style="left:214px;top:520px"></i><i class="qlp" style="left:182px;top:524px"></i><i class="qrr" style="left:230px;top:528px"></i><i class="qlb" style="left:182px;top:536px"></i><i class="qdp" style="left:198px;top:540px"></i><i class="qur" style="left:214px;top:544px"></i><i class="qdp" style="left:198px;top:548px"></i><i class="qub" style="left:214px;top:552px"></i><i class="qrp" style="left:230px;top:556px"></i><i class="qdr" style="left:198px;top:560px"></i><i class="qup" style="left:214px;top:564px"></i><i class="qlb" style="left:182px;top:568px"></i><i class="qrp" style="left:230px;top:572px"></i><i class="qur" style="left:214px;top:576px"></i><i class="qdp" style="left:198px;top:580px"></i><i class="qlb" style="left:182px;top:584px"></i><i class="qrp" style="left:230px;top:588px"></i><i class="qlr" style="left:182px;top:592px"></i><i class="qrr" style="left:230px;top:592px"></i><i class="qlr" style="left:182px;top:608px"></i><i class="qur" style="left:214px;top:624px"></i><i class="qlr" style="left:182px;top:640px"></i><i class="qdr" style="left:198px;top:656px"></i><i class="qlr" style="left:182px;top:672px"></i><i class="qur" style="left:214px;top:688px"></i><i class="qlr" style="left:182px;top:704px"></i><i class="qrr" style="left:230px;top:720px"></i><i class="qlr" style="left:182px;top:736px"></i><i class="qur" style="left:214px;top:752px"></i><i class="qlr" style="left:182px;top:768px"></i><i class="qdr" style="left:198px;top:784px"></i><i class="qlr" style="left:182px;top:800px"></i><i class="qur" style="left:294px;top:48px"></i><i class="qlr" style="left:262px;top:64px"></i><i class="qrr" style="left:310px;top:80px"></i><i class="qlr" style="left:262px;top:96px"></i><i class="qdr" style="left:278px;top:112px"></i><i class="qlb" style="left:262px;top:120px"></i><i class="qdr" style="left:278px;top:128px"></i><i class="qur" style="left:294px;top:144px"></i><i class="qrb" style="left:310px;top:152px"></i><i class="qur" style="left:294px;top:160px"></i><i class="qdr" style="left:278px;top:176px"></i><i class="qlr" style="left:262px;top:192px"></i><i class="qur" style="left:294px;top:208px"></i><i class="qlr" style="left:262px;top:224px"></i><i class="qrr" style="left:310px;top:240px"></i><i class="qdr" style="left:278px;top:256px"></i><i class="qrr" style="left:310px;top:272px"></i><i class="qur" style="left:294px;top:288px"></i><i class="qdr" style="left:278px;top:304px"></i><i class="qur" style="left:294px;top:304px"></i><i class="qlr" style="left:262px;top:320px"></i><i class="qrr" style="left:310px;top:320px"></i><i class="qlr" style="left:262px;top:352px"></i><i class="qrr" style="left:310px;top:368px"></i><i class="qdr" style="left:278px;top:384px"></i><i class="qrr" style="left:310px;top:400px"></i><i class="qur" style="left:294px;top:416px"></i><i class="qrr" style="left:310px;top:432px"></i><i class="qlr" style="left:262px;top:448px"></i><i class="qrr" style="left:310px;top:464px"></i><i class="qur" style="left:294px;top:480px"></i><i class="qrr" style="left:310px;top:496px"></i><i class="qdr" style="left:278px;top:512px"></i><i class="qrr" style="left:310px;top:528px"></i><i class="qur" style="left:294px;top:544px"></i><i class="qrr" style="left:310px;top:560px"></i><i class="qlr" style="left:262px;top:576px"></i><i class="qrr" style="left:310px;top:592px"></i><i class="qdr" style="left:278px;top:608px"></i><i class="qrb" style="left:310px;top:616px"></i><i class="qdr" style="left:278px;top:624px"></i><i class="qur" style="left:294px;top:640px"></i><i class="qlb" style="left:262px;top:648px"></i><i class="qur" style="left:294px;top:656px"></i><i class="qdr" style="left:278px;top:672px"></i><i class="qrr" style="left:310px;top:688px"></i><i class="qur" style="left:294px;top:704px"></i><i class="qrr" style="left:310px;top:720px"></i><i class="qlr" style="left:262px;top:736px"></i><i class="qdr" style="left:278px;top:752px"></i><i class="qlr" style="left:262px;top:768px"></i><i class="qur" style="left:294px;top:784px"></i><i class="qdr" style="left:278px;top:800px"></i><i class="qur" style="left:294px;top:800px"></i><i class="qlr" style="left:342px;top:48px"></i><i class="qrr" style="left:390px;top:48px"></i><i class="qlr" style="left:342px;top:80px"></i><i class="qur" style="left:374px;top:96px"></i><i class="qdr" style="left:358px;top:112px"></i><i class="qrr" style="left:390px;top:128px"></i><i class="qur" style="left:374px;top:144px"></i><i class="qdr" style="left:358px;top:160px"></i><i class="qlr" style="left:342px;top:176px"></i><i class="qdr" style="left:358px;top:192px"></i><i class="qur" style="left:374px;top:208px"></i><i class="qrr" style="left:390px;top:224px"></i><i class="qdr" style="left:358px;top:240px"></i><i class="qur" style="left:374px;top:256px"></i><i class="qlr" style="left:342px;top:272px"></i><i class="qrr" style="left:390px;top:288px"></i><i class="qdr" style="left:358px;top:304px"></i><i class="qrr" style="left:390px;top:320px"></i><i class="qlr" style="left:342px;top:336px"></i><i class="qur" style="left:374px;top:352px"></i><i class="qlr" style="left:342px;top:368px"></i><i class="qrr" style="left:390px;top:384px"></i><i class="qur" style="left:374px;top:400px"></i><i class="qrr" style="left:390px;top:416px"></i><i class="qlr" style="left:342px;top:432px"></i><i class="qdr" style="left:358px;top:448px"></i><i class="qlr" style="left:342px;top:464px"></i><i class="qur" style="left:374px;top:480px"></i><i class="qdr" style="left:358px;top:496px"></i><i class="qrr" style="left:390px;top:512px"></i><i class="qur" style="left:374px;top:528px"></i><i class="qdr" style="left:358px;top:544px"></i><i class="qlr" style="left:342px;top:560px"></i><i class="qub" style="left:374px;top:568px"></i><i class="qdr" style="left:358px;top:576px"></i><i class="qrr" style="left:390px;top:592px"></i><i class="qlr" style="left:342px;top:608px"></i><i class="qrr" style="left:390px;top:624px"></i><i class="qdb" style="left:358px;top:632px"></i><i class="qur" style="left:374px;top:640px"></i><i class="qlr" style="left:342px;top:656px"></i><i class="qrr" style="left:390px;top:672px"></i><i class="qur" style="left:374px;top:688px"></i><i class="qdb" style="left:358px;top:696px"></i><i class="qlr" style="left:342px;top:704px"></i><i class="qrr" style="left:390px;top:720px"></i><i class="qlr" style="left:342px;top:736px"></i><i class="qdr" style="left:358px;top:752px"></i><i class="qub" style="left:374px;top:760px"></i><i class="qrr" style="left:390px;top:768px"></i><i class="qlr" style="left:342px;top:784px"></i><i class="qrr" style="left:390px;top:800px"></i><i class="qlr" style="left:422px;top:48px"></i><i class="qub" style="left:454px;top:56px"></i><i class="qlr" style="left:422px;top:64px"></i><i class="qrr" style="left:470px;top:80px"></i><i class="qdb" style="left:438px;top:88px"></i><i class="qrr" style="left:470px;top:96px"></i><i class="qlr" style="left:422px;top:112px"></i><i class="qdb" style="left:438px;top:120px"></i><i class="qlr" style="left:422px;top:128px"></i><i class="qrr" style="left:470px;top:144px"></i><i class="qub" style="left:454px;top:152px"></i><i class="qrr" style="left:470px;top:160px"></i><i class="qlr" style="left:422px;top:176px"></i><i class="qub" style="left:454px;top:184px"></i><i class="qdr" style="left:438px;top:192px"></i><i class="qub" style="left:454px;top:200px"></i><i class="qdr" style="left:438px;top:208px"></i><i class="qrb" style="left:470px;top:216px"></i><i class="qur" style="left:454px;top:224px"></i><i class="qdb" style="left:438px;top:232px"></i><i class="qlr" style="left:422px;top:240px"></i><i class="qrb" style="left:470px;top:248px"></i><i class="qlr" style="left:422px;top:256px"></i><i class="qrb" style="left:470px;top:264px"></i><i class="qur" style="left:454px;top:272px"></i><i class="qdb" style="left:438px;top:280px"></i><i class="qlr" style="left:422px;top:288px"></i><i class="qub" style="left:454px;top:296px"></i><i class="qdr" style="left:438px;top:304px"></i><i class="qdr" style="left:438px;top:320px"></i><i class="qrr" style="left:470px;top:320px"></i><i class="qur" style="left:454px;top:336px"></i><i class="qrr" style="left:470px;top:336px"></i><i class="qdr" style="left:438px;top:352px"></i><i class="qrr" style="left:470px;top:352px"></i><i class="qdr" style="left:438px;top:368px"></i><i class="qrb" style="left:470px;top:376px"></i><i class="qup" style="left:454px;top:380px"></i><i class="qrr" style="left:470px;top:384px"></i><i class="qlb" style="left:422px;top:392px"></i><i class="qdp" style="left:438px;top:396px"></i><i class="qlr" style="left:422px;top:400px"></i><i class="qub" style="left:454px;top:408px"></i><i class="qdp" style="left:438px;top:412px"></i><i class="qur" style="left:454px;top:416px"></i><i class="qlb" style="left:422px;top:424px"></i><i class="qrp" style="left:470px;top:428px"></i><i class="qlr" style="left:422px;top:432px"></i><i class="qdb" style="left:438px;top:440px"></i><i class="qlb" style="left:422px;top:456px"></i><i class="qdb" style="left:438px;top:456px"></i><i class="qlb" style="left:422px;top:472px"></i><i class="qub" style="left:454px;top:472px"></i><i class="qlb" style="left:422px;top:488px"></i><i class="qdb" style="left:438px;top:488px"></i><i class="qdb" style="left:438px;top:504px"></i><i class="qur" style="left:454px;top:512px"></i><i class="qrp" style="left:470px;top:516px"></i><i class="qub" style="left:454px;top:520px"></i><i class="qrr" style="left:470px;top:528px"></i><i class="qdg" style="left:438px;top:533px"></i><i class="qug" style="left:454px;top:539px"></i><i class="qlr" style="left:422px;top:544px"></i><i class="qug" style="left:454px;top:549px"></i><i class="qdg" style="left:438px;top:555px"></i><i class="qrr" style="left:470px;top:560px"></i><i class="qug" style="left:454px;top:565px"></i><i class="qdg" style="left:438px;top:571px"></i><i class="qlr" style="left:422px;top:576px"></i><i class="qlr" style="left:422px;top:592px"></i><i class="qdr" style="left:438px;top:592px"></i><i class="qdr" style="left:438px;top:608px"></i><i class="qrr" style="left:470px;top:608px"></i><i class="qlr" style="left:422px;top:624px"></i><i class="qdr" style="left:438px;top:624px"></i><i class="qlr" style="left:422px;top:640px"></i><i class="qub" style="left:454px;top:648px"></i><i class="qdp" style="left:438px;top:652px"></i><i class="qur" style="left:454px;top:656px"></i><i class="qdb" style="left:438px;top:664px"></i><i class="qrp" style="left:470px;top:668px"></i><i class="qdr" style="left:438px;top:672px"></i><i class="qub" style="left:454px;top:680px"></i><i class="qlp" style="left:422px;top:684px"></i><i class="qur" style="left:454px;top:688px"></i><i class="qlb" style="left:422px;top:696px"></i><i class="qrp" style="left:470px;top:700px"></i><i class="qlr" style="left:422px;top:704px"></i><i class="qrb" style="left:470px;top:712px"></i><i class="qub" style="left:454px;top:728px"></i><i class="qrb" style="left:470px;top:728px"></i><i class="qlb" style="left:422px;top:744px"></i><i class="qub" style="left:454px;top:744px"></i><i class="qub" style="left:454px;top:760px"></i><i class="qrb" style="left:470px;top:760px"></i><i class="qrb" style="left:470px;top:776px"></i><i class="qdg" style="left:438px;top:781px"></i><i class="qrg" style="left:470px;top:787px"></i><i class="qlb" style="left:422px;top:792px"></i><i class="qdg" style="left:438px;top:797px"></i><i class="qlg" style="left:422px;top:803px"></i><i class="qrb" style="left:470px;top:808px"></i><i class="qur" style="left:534px;top:48px"></i><i class="qdp" style="left:518px;top:52px"></i><i class="qub" style="left:534px;top:56px"></i><i class="qdr" style="left:518px;top:64px"></i><i class="qup" style="left:534px;top:68px"></i><i class="qdb" style="left:518px;top:72px"></i><i class="qlr" style="left:502px;top:80px"></i><i class="qlr" style="left:502px;top:96px"></i><i class="qur" style="left:534px;top:96px"></i><i class="qur" style="left:534px;top:112px"></i><i class="qrr" style="left:550px;top:112px"></i><i class="qdr" style="left:518px;top:128px"></i><i class="qrr" style="left:550px;top:128px"></i><i class="qlr" style="left:502px;top:144px"></i><i class="qdr" style="left:518px;top:144px"></i><i class="qrr" style="left:550px;top:176px"></i><i class="qur" style="left:534px;top:208px"></i><i class="qdr" style="left:518px;top:224px"></i><i class="qur" style="left:534px;top:240px"></i><i class="qdr" style="left:518px;top:256px"></i><i class="qur" style="left:534px;top:256px"></i><i class="qrr" style="left:550px;top:288px"></i><i class="qur" style="left:534px;top:304px"></i><i class="qrr" style="left:550px;top:304px"></i><i class="qlr" style="left:502px;top:320px"></i><i class="qur" style="left:534px;top:320px"></i><i class="qlr" style="left:502px;top:336px"></i><i class="qdr" style="left:518px;top:336px"></i><i class="qdr" style="left:518px;top:352px"></i><i class="qur" style="left:534px;top:368px"></i><i class="qrr" style="left:550px;top:384px"></i><i class="qlr" style="left:502px;top:400px"></i><i class="qlr" style="left:502px;top:416px"></i><i class="qug" style="left:534px;top:427px"></i><i class="qlg" style="left:502px;top:437px"></i><i class="qrr" style="left:550px;top:448px"></i><i class="qdg" style="left:518px;top:459px"></i><i class="qrg" style="left:550px;top:469px"></i><i class="qlr" style="left:502px;top:480px"></i><i class="qlr" style="left:502px;top:496px"></i><i class="qur" style="left:534px;top:496px"></i><i class="qur" style="left:534px;top:512px"></i><i class="qdr" style="left:518px;top:528px"></i><i class="qrr" style="left:550px;top:544px"></i><i class="qdr" style="left:518px;top:560px"></i><i class="qrr" style="left:550px;top:560px"></i><i class="qdr" style="left:518px;top:576px"></i><i class="qur" style="left:534px;top:592px"></i><i class="qlr" style="left:502px;top:608px"></i><i class="qlr" style="left:502px;top:624px"></i><i class="qdr" style="left:518px;top:624px"></i><i class="qdr" style="left:518px;top:640px"></i><i class="qur" style="left:534px;top:656px"></i><i class="qrr" style="left:550px;top:672px"></i><i class="qur" style="left:534px;top:688px"></i><i class="qrr" style="left:550px;top:688px"></i><i class="qur" style="left:534px;top:704px"></i><i class="qdr" style="left:518px;top:720px"></i><i class="qlr" style="left:502px;top:736px"></i><i class="qrr" style="left:550px;top:752px"></i><i class="qdr" style="left:518px;top:768px"></i><i class="qlr" style="left:502px;top:784px"></i><i class="qdr" style="left:518px;top:800px"></i><i class="qrr" style="left:630px;top:48px"></i><i class="qur" style="left:614px;top:64px"></i><i class="qlr" style="left:582px;top:80px"></i><i class="qur" style="left:614px;top:96px"></i><i class="qdr" style="left:598px;top:112px"></i><i class="qur" style="left:614px;top:112px"></i><i class="qdr" style="left:598px;top:192px"></i><i class="qur" style="left:614px;top:192px"></i><i class="qub" style="left:614px;top:200px"></i><i class="qlr" style="left:582px;top:208px"></i><i class="qdb" style="left:598px;top:216px"></i><i class="qlr" style="left:582px;top:224px"></i><i class="qrb" style="left:630px;top:232px"></i><i class="qur" style="left:614px;top:240px"></i><i class="qrb" style="left:630px;top:248px"></i><i class="qdr" style="left:598px;top:256px"></i><i class="qub" style="left:614px;top:264px"></i><i class="qlp" style="left:582px;top:268px"></i><i class="qur" style="left:614px;top:272px"></i><i class="qdb" style="left:598px;top:280px"></i><i class="qur" style="left:614px;top:288px"></i><i class="qdb" style="left:598px;top:296px"></i><i class="qrp" style="left:630px;top:300px"></i><i class="qdr" style="left:598px;top:304px"></i><i class="qrp" style="left:630px;top:308px"></i><i class="qdb" style="left:598px;top:312px"></i><i class="qur" style="left:614px;top:320px"></i><i class="qlb" style="left:582px;top:328px"></i><i class="qrr" style="left:630px;top:336px"></i><i class="qdb" style="left:598px;top:344px"></i><i class="qrr" style="left:630px;top:352px"></i><i class="qug" style="left:614px;top:357px"></i><i class="qdg" style="left:598px;top:363px"></i><i class="qlr" style="left:582px;top:368px"></i><i class="qdg" style="left:598px;top:373px"></i><i class="qug" style="left:614px;top:379px"></i><i class="qrr" style="left:630px;top:384px"></i><i class="qdb" style="left:598px;top:392px"></i><i class="qlr" style="left:582px;top:400px"></i><i class="qub" style="left:614px;top:408px"></i><i class="qrr" style="left:630px;top:416px"></i><i class="qdb" style="left:598px;top:424px"></i><i class="qur" style="left:614px;top:432px"></i><i class="qlb" style="left:582px;top:440px"></i><i class="qlr" style="left:582px;top:448px"></i><i class="qur" style="left:614px;top:448px"></i><i class="qdr" style="left:598px;top:464px"></i><i class="qrr" style="left:630px;top:464px"></i><i class="qrb" style="left:630px;top:472px"></i><i class="qlr" style="left:582px;top:480px"></i><i class="qdb" style="left:598px;top:488px"></i><i class="qur" style="left:614px;top:496px"></i><i class="qdp" style="left:598px;top:500px"></i><i class="qub" style="left:614px;top:504px"></i><i class="qrr" style="left:630px;top:512px"></i><i class="qdb" style="left:598px;top:520px"></i><i class="qur" style="left:614px;top:528px"></i><i class="qlp" style="left:582px;top:532px"></i><i class="qub" style="left:614px;top:536px"></i><i class="qlp" style="left:582px;top:540px"></i><i class="qur" style="left:614px;top:544px"></i><i class="qlg" style="left:582px;top:549px"></i><i class="qdg" style="left:598px;top:555px"></i><i class="qur" style="left:614px;top:560px"></i><i class="qrg" style="left:630px;top:565px"></i><i class="qlg" style="left:582px;top:571px"></i><i class="qdr" style="left:598px;top:576px"></i><i class="qug" style="left:614px;top:581px"></i><i class="qrg" style="left:630px;top:587px"></i><i class="qdr" style="left:598px;top:592px"></i><i class="qup" style="left:614px;top:596px"></i><i class="qlb" style="left:582px;top:600px"></i><i class="qlr" style="left:582px;top:608px"></i><i class="qur" style="left:614px;top:608px"></i><i class="qub" style="left:614px;top:616px"></i><i class="qdp" style="left:598px;top:620px"></i><i class="qrr" style="left:630px;top:624px"></i><i class="qlb" style="left:582px;top:632px"></i><i class="qur" style="left:614px;top:640px"></i><i class="qrr" style="left:630px;top:656px"></i><i class="qug" style="left:614px;top:661px"></i><i class="qdg" style="left:598px;top:667px"></i><i class="qlr" style="left:582px;top:672px"></i><i class="qrr" style="left:630px;top:688px"></i><i class="qug" style="left:614px;top:693px"></i><i class="qdg" style="left:598px;top:699px"></i><i class="qlr" style="left:582px;top:704px"></i><i class="qdp" style="left:598px;top:708px"></i><i class="qlb" style="left:582px;top:712px"></i><i class="qrr" style="left:630px;top:720px"></i><i class="qdb" style="left:598px;top:728px"></i><i class="qur" style="left:614px;top:736px"></i><i class="qlg" style="left:582px;top:741px"></i><i class="qrg" style="left:630px;top:747px"></i><i class="qdr" style="left:598px;top:752px"></i><i class="qup" style="left:614px;top:756px"></i><i class="qlb" style="left:582px;top:760px"></i><i class="qur" style="left:614px;top:768px"></i><i class="qdp" style="left:598px;top:772px"></i><i class="qrb" style="left:630px;top:776px"></i><i class="qdp" style="left:598px;top:780px"></i><i class="qrr" style="left:630px;top:784px"></i><i class="qub" style="left:614px;top:792px"></i><i class="qdr" style="left:598px;top:800px"></i><i class="qlb" style="left:582px;top:808px"></i><i class="qrr" style="left:710px;top:48px"></i><i class="qdb" style="left:678px;top:56px"></i><i class="qur" style="left:694px;top:64px"></i><i class="qlb" style="left:662px;top:72px"></i><i class="qdr" style="left:678px;top:80px"></i><i class="qrb" style="left:710px;top:88px"></i><i class="qur" style="left:694px;top:96px"></i><i class="qlb" style="left:662px;top:104px"></i><i class="qdp" style="left:678px;top:108px"></i><i class="qlr" style="left:662px;top:112px"></i><i class="qrb" style="left:710px;top:120px"></i><i class="qur" style="left:694px;top:128px"></i><i class="qrb" style="left:710px;top:136px"></i><i class="qdr" style="left:678px;top:144px"></i><i class="qug" style="left:694px;top:149px"></i><i class="qdg" style="left:678px;top:155px"></i><i class="qur" style="left:694px;top:160px"></i><i class="qug" style="left:694px;top:171px"></i><i class="qlr" style="left:662px;top:176px"></i><i class="qlg" style="left:662px;top:187px"></i><i class="qdr" style="left:678px;top:192px"></i><i class="qdg" style="left:678px;top:203px"></i><i class="qrr" style="left:710px;top:208px"></i><i class="qup" style="left:694px;top:212px"></i><i class="qrb" style="left:710px;top:216px"></i><i class="qdr" style="left:678px;top:224px"></i><i class="qub" style="left:694px;top:232px"></i><i class="qlr" style="left:662px;top:240px"></i><i class="qdp" style="left:678px;top:244px"></i><i class="qlb" style="left:662px;top:248px"></i><i class="qrr" style="left:710px;top:256px"></i><i class="qrb" style="left:710px;top:264px"></i><i class="qdr" style="left:678px;top:272px"></i><i class="qdb" style="left:678px;top:280px"></i><i class="qlr" style="left:662px;top:288px"></i><i class="qur" style="left:694px;top:288px"></i><i class="qrb" style="left:710px;top:296px"></i><i class="qdp" style="left:678px;top:300px"></i><i class="qur" style="left:694px;top:304px"></i><i class="qlr" style="left:662px;top:320px"></i><i class="qrr" style="left:710px;top:320px"></i><i class="qlr" style="left:662px;top:448px"></i><i class="qug" style="left:694px;top:459px"></i><i class="qlg" style="left:662px;top:469px"></i><i class="qur" style="left:694px;top:480px"></i><i class="qlg" style="left:662px;top:491px"></i><i class="qug" style="left:694px;top:501px"></i><i class="qlr" style="left:662px;top:512px"></i><i class="qdg" style="left:678px;top:523px"></i><i class="qlg" style="left:662px;top:533px"></i><i class="qdr" style="left:678px;top:544px"></i><i class="qlg" style="left:662px;top:555px"></i><i class="qdg" style="left:678px;top:565px"></i><i class="qur" style="left:694px;top:576px"></i><i class="qrg" style="left:710px;top:587px"></i><i class="qug" style="left:694px;top:597px"></i><i class="qrr" style="left:710px;top:608px"></i><i class="qug" style="left:694px;top:619px"></i><i class="qrg" style="left:710px;top:629px"></i><i class="qdr" style="left:678px;top:640px"></i><i class="qrg" style="left:710px;top:651px"></i><i class="qdg" style="left:678px;top:661px"></i><i class="qrr" style="left:710px;top:672px"></i><i class="qdg" style="left:678px;top:683px"></i><i class="qug" style="left:694px;top:693px"></i><i class="qdr" style="left:678px;top:704px"></i><i class="qug" style="left:694px;top:715px"></i><i class="qdg" style="left:678px;top:725px"></i><i class="qur" style="left:694px;top:736px"></i><i class="qlg" style="left:662px;top:747px"></i><i class="qdg" style="left:678px;top:757px"></i><i class="qur" style="left:694px;top:768px"></i><i class="qrg" style="left:710px;top:779px"></i><i class="qdg" style="left:678px;top:789px"></i><i class="qur" style="left:694px;top:800px"></i><i class="qdb" style="left:678px;top:808px"></i><i class="qur" style="left:774px;top:48px"></i><i class="qlr" style="left:742px;top:64px"></i><i class="qdg" style="left:758px;top:75px"></i><i class="qug" style="left:774px;top:85px"></i><i class="qrr" style="left:790px;top:96px"></i><i class="qug" style="left:774px;top:107px"></i><i class="qdg" style="left:758px;top:117px"></i><i class="qlr" style="left:742px;top:128px"></i><i class="qur" style="left:774px;top:144px"></i><i class="qdr" style="left:758px;top:160px"></i><i class="qrr" style="left:790px;top:176px"></i><i class="qrr" style="left:790px;top:192px"></i><i class="qug" style="left:774px;top:203px"></i><i class="qrg" style="left:790px;top:213px"></i><i class="qur" style="left:774px;top:224px"></i><i class="qrg" style="left:790px;top:235px"></i><i class="qug" style="left:774px;top:245px"></i><i class="qrr" style="left:790px;top:256px"></i><i class="qdg" style="left:758px;top:267px"></i><i class="qrg" style="left:790px;top:277px"></i><i class="qdr" style="left:758px;top:288px"></i><i class="qrg" style="left:790px;top:299px"></i><i class="qdg" style="left:758px;top:309px"></i><i class="qur" style="left:774px;top:320px"></i><i class="qlg" style="left:742px;top:331px"></i><i class="qug" style="left:774px;top:341px"></i><i class="qlr" style="left:742px;top:352px"></i><i class="qug" style="left:774px;top:363px"></i><i class="qlg" style="left:742px;top:373px"></i><i class="qdr" style="left:758px;top:384px"></i><i class="qlg" style="left:742px;top:395px"></i><i class="qdg" style="left:758px;top:405px"></i><i class="qlr" style="left:742px;top:416px"></i><i class="qdg" style="left:758px;top:427px"></i><i class="qug" style="left:774px;top:437px"></i><i class="qdr" style="left:758px;top:448px"></i><i class="qug" style="left:774px;top:459px"></i><i class="qdg" style="left:758px;top:469px"></i><i class="qur" style="left:774px;top:480px"></i><i class="qrg" style="left:790px;top:491px"></i><i class="qdg" style="left:758px;top:501px"></i><i class="qur" style="left:774px;top:512px"></i><i class="qlg" style="left:742px;top:523px"></i><i class="qdg" style="left:758px;top:533px"></i><i class="qur" style="left:774px;top:544px"></i><i class="qdb" style="left:758px;top:552px"></i><i class="qur" style="left:774px;top:560px"></i><i class="qrr" style="left:790px;top:576px"></i><i class="qdb" style="left:758px;top:584px"></i><i class="qrr" style="left:790px;top:592px"></i><i class="qdb" style="left:758px;top:600px"></i><i class="qrr" style="left:790px;top:608px"></i><i class="qlb" style="left:742px;top:616px"></i><i class="qdr" style="left:758px;top:624px"></i><i class="qlb" style="left:742px;top:632px"></i><i class="qdr" style="left:758px;top:640px"></i><i class="qlb" style="left:742px;top:648px"></i><i class="qur" style="left:774px;top:656px"></i><i class="qdb" style="left:758px;top:664px"></i><i class="qur" style="left:774px;top:672px"></i><i class="qdb" style="left:758px;top:680px"></i><i class="qur" style="left:774px;top:688px"></i><i class="qlg" style="left:742px;top:699px"></i><i class="qdg" style="left:758px;top:709px"></i><i class="qur" style="left:774px;top:720px"></i><i class="qrg" style="left:790px;top:731px"></i><i class="qdg" style="left:758px;top:741px"></i><i class="qur" style="left:774px;top:752px"></i><i class="qlg" style="left:742px;top:763px"></i><i class="qug" style="left:774px;top:773px"></i><i class="qlr" style="left:742px;top:784px"></i><i class="qdg" style="left:758px;top:795px"></i><i class="qug" style="left:774px;top:805px"></i><i class="qrr" style="left:870px;top:48px"></i><i class="qug" style="left:854px;top:59px"></i><i class="qdg" style="left:838px;top:69px"></i><i class="qlr" style="left:822px;top:80px"></i><i class="qug" style="left:854px;top:91px"></i><i class="qdg" style="left:838px;top:101px"></i><i class="qrr" style="left:870px;top:112px"></i><i class="qdg" style="left:838px;top:123px"></i><i class="qrg" style="left:870px;top:133px"></i><i class="qur" style="left:854px;top:144px"></i><i class="qdg" style="left:838px;top:155px"></i><i class="qlg" style="left:822px;top:165px"></i><i class="qur" style="left:854px;top:176px"></i><i class="qdg" style="left:838px;top:187px"></i><i class="qrg" style="left:870px;top:197px"></i><i class="qur" style="left:854px;top:208px"></i><i class="qrg" style="left:870px;top:219px"></i><i class="qug" style="left:854px;top:229px"></i><i class="qdr" style="left:838px;top:240px"></i><i class="qug" style="left:854px;top:251px"></i><i class="qrg" style="left:870px;top:261px"></i><i class="qdr" style="left:838px;top:272px"></i><i class="qug" style="left:854px;top:283px"></i><i class="qlg" style="left:822px;top:293px"></i><i class="qdr" style="left:838px;top:304px"></i><i class="qlg" style="left:822px;top:315px"></i><i class="qdg" style="left:838px;top:325px"></i><i class="qur" style="left:854px;top:336px"></i><i class="qdg" style="left:838px;top:347px"></i><i class="qlg" style="left:822px;top:357px"></i><i class="qur" style="left:854px;top:368px"></i><i class="qdg" style="left:838px;top:379px"></i><i class="qrg" style="left:870px;top:389px"></i><i class="qlr" style="left:822px;top:400px"></i><i class="qdg" style="left:838px;top:411px"></i><i class="qug" style="left:854px;top:421px"></i><i class="qrr" style="left:870px;top:432px"></i><i class="qlb" style="left:822px;top:440px"></i><i class="qur" style="left:854px;top:448px"></i><i class="qdr" style="left:838px;top:464px"></i><i class="qur" style="left:854px;top:480px"></i><i class="qlr" style="left:822px;top:496px"></i><i class="qrb" style="left:870px;top:504px"></i><i class="qdr" style="left:838px;top:512px"></i><i class="qur" style="left:854px;top:528px"></i><i class="qdr" style="left:838px;top:544px"></i><i class="qrr" style="left:870px;top:560px"></i><i class="qub" style="left:854px;top:568px"></i><i class="qdr" style="left:838px;top:576px"></i><i class="qrr" style="left:870px;top:592px"></i><i class="qdr" style="left:838px;top:608px"></i><i class="qlr" style="left:822px;top:624px"></i><i class="qdb" style="left:838px;top:632px"></i><i class="qur" style="left:854px;top:640px"></i><i class="qlr" style="left:822px;top:656px"></i><i class="qur" style="left:854px;top:672px"></i><i class="qrr" style="left:870px;top:688px"></i><i class="qdb" style="left:838px;top:696px"></i><i class="qur" style="left:854px;top:704px"></i><i class="qlr" style="left:822px;top:720px"></i><i class="qdb" style="left:838px;top:728px"></i><i class="qur" style="left:854px;top:736px"></i><i class="qrr" style="left:870px;top:752px"></i><i class="qub" style="left:854px;top:760px"></i><i class="qdr" style="left:838px;top:768px"></i><i class="qlr" style="left:822px;top:784px"></i><i class="qub" style="left:854px;top:792px"></i><i class="qdr" style="left:838px;top:800px"></i><i class="qrr" style="left:950px;top:48px"></i><i class="qlb" style="left:902px;top:56px"></i><i class="qrr" style="left:950px;top:64px"></i><i class="qlb" style="left:902px;top:72px"></i><i class="qur" style="left:934px;top:80px"></i><i class="qdb" style="left:918px;top:88px"></i><i class="qur" style="left:934px;top:96px"></i><i class="qdb" style="left:918px;top:104px"></i><i class="qrr" style="left:950px;top:112px"></i><i class="qlb" style="left:902px;top:120px"></i><i class="qur" style="left:934px;top:128px"></i><i class="qdb" style="left:918px;top:136px"></i><i class="qrr" style="left:950px;top:144px"></i><i class="qlb" style="left:902px;top:152px"></i><i class="qdr" style="left:918px;top:160px"></i><i class="qub" style="left:934px;top:168px"></i><i class="qrr" style="left:950px;top:176px"></i><i class="qur" style="left:934px;top:240px"></i><i class="qrr" style="left:950px;top:240px"></i><i class="qdb" style="left:918px;top:264px"></i><i class="qrb" style="left:950px;top:264px"></i><i class="qlr" style="left:902px;top:288px"></i><i class="qur" style="left:934px;top:288px"></i><i class="qlr" style="left:902px;top:304px"></i><i class="qdr" style="left:918px;top:304px"></i><i class="qlr" style="left:902px;top:368px"></i><i class="qdr" style="left:918px;top:368px"></i><i class="qlb" style="left:902px;top:392px"></i><i class="qub" style="left:934px;top:392px"></i><i class="qdr" style="left:918px;top:416px"></i><i class="qrr" style="left:950px;top:416px"></i><i class="qur" style="left:934px;top:432px"></i><i class="qrr" style="left:950px;top:432px"></i><i class="qur" style="left:934px;top:496px"></i><i class="qrr" style="left:950px;top:496px"></i><i class="qlb" style="left:902px;top:520px"></i><i class="qub" style="left:934px;top:520px"></i><i class="qlr" style="left:902px;top:544px"></i><i class="qdr" style="left:918px;top:544px"></i><i class="qlr" style="left:902px;top:560px"></i><i class="qrr" style="left:950px;top:560px"></i>
<div class="lg bp" style="left:8px;top:825px">A: 110 BPM</div><div class="lg st" style="left:8px;top:837px">G: 0.14s (1/8)</div><div class="lg st" style="left:8px;top:849px">M: 0.14s (1/8)</div><div class="lg st" style="left:8px;top:861px">S: 0.14s (1/4)</div><div class="lg st" style="left:8px;top:873px">Y: 0.14s (1/4)</div><div class="lg st" style="left:8px;top:885px">AE: 0.14s (1/4)</div><div class="lg st" style="left:8px;top:897px">AK: 0.14s (1/4)</div><div class="lg st" style="left:8px;top:909px">AQ: 0.14s (1/4)</div><div class="lg bp" style="left:8px;top:921px">AV: 880 BPM</div><div class="lg bp" style="left:8px;top:933px">AZ: 880 BPM</div><div class="lg bp" style="left:8px;top:945px">BE: 110 BPM</div><div class="lg bp" style="left:8px;top:957px">BK: 220 BPM</div><div class="lg bp" style="left:8px;top:969px">BQ: 110 BPM</div><div class="lg st" style="left:8px;top:981px">BW: 0.07s (1/8)</div><div class="lg bp" style="left:136px;top:825px">B: 220 BPM</div><div class="lg st" style="left:136px;top:837px">H: 0.14s (1/8)</div><div class="lg st" style="left:136px;top:849px">N: 0.14s (1/8)</div><div class="lg st" style="left:136px;top:861px">T: 0.14s (1/4)</div><div class="lg st" style="left:136px;top:873px">Z: 0.14s (1/4)</div><div class="lg st" style="left:136px;top:885px">AF: 0.14s (1/4)</div><div class="lg bp" style="left:136px;top:897px">AL: 220 BPM</div><div class="lg st" style="left:136px;top:909px">AR: 0.14s (1/4)</div><div class="lg st" style="left:136px;top:921px">AV: 0.07s (1/4)</div><div class="lg st" style="left:136px;top:933px">AZ: 0.07s (1/4)</div><div class="lg bp" style="left:136px;top:945px">BF: 220 BPM</div><div class="lg bp" style="left:136px;top:957px">BL: 110 BPM</div><div class="lg bp" style="left:136px;top:969px">BR: 220 BPM</div><div class="lg bp" style="left:136px;top:981px">BX: 220 BPM</div><div class="lg st" style="left:264px;top:825px">C: 0.27s (1/4)</div><div class="lg st" style="left:264px;top:837px">I: 0.14s (1/8)</div><div class="lg st" style="left:264px;top:849px">O: 0.14s (1/8)</div><div class="lg st" style="left:264px;top:861px">U: 0.14s (1/4)</div><div class="lg st" style="left:264px;top:873px">AA: 0.14s (1/4)</div><div class="lg bp" style="left:264px;top:885px">AG: 220 BPM</div><div class="lg bp" style="left:264px;top:897px">AM: 440 BPM</div><div class="lg st" style="left:264px;top:909px">AS: 0.14s (1/4)</div><div class="lg bp" style="left:264px;top:921px">AW: 440 BPM</div><div class="lg bp" style="left:264px;top:933px">BA: 440 BPM</div><div class="lg st" style="left:264px;top:945px">BG: 0.14s (1/8)</div><div class="lg bp" style="left:264px;top:957px">BM: 220 BPM</div><div class="lg bp" style="left:264px;top:969px">BS: 110 BPM</div><div class="lg st" style="left:392px;top:825px">D: 0.27s (1/4)</div><div class="lg st" style="left:392px;top:837px">J: 0.14s (1/8)</div><div class="lg bp" style="left:392px;top:849px">P: 110 BPM</div><div class="lg st" style="left:392px;top:861px">V: 0.14s (1/4)</div><div class="lg bp" style="left:392px;top:873px">AB: 220 BPM</div><div class="lg bp" style="left:392px;top:885px">AH: 440 BPM</div><div class="lg st" style="left:392px;top:897px">AN: 0.14s (1/4)</div><div class="lg bp" style="left:392px;top:909px">AT: 880 BPM</div><div class="lg bp" style="left:392px;top:921px">AX: 880 BPM</div><div class="lg bp" style="left:392px;top:933px">BB: 880 BPM</div><div class="lg st" style="left:392px;top:945px">BH: 0.14s (1/8)</div><div class="lg st" style="left:392px;top:957px">BN: 0.14s (1/8)</div><div class="lg bp" style="left:392px;top:969px">BT: 880 BPM</div><div class="lg st" style="left:520px;top:825px">E: 0.27s (1/4)</div><div class="lg st" style="left:520px;top:837px">K: 0.14s (1/8)</div><div class="lg bp" style="left:520px;top:849px">Q: 440 BPM</div><div class="lg bp" style="left:520px;top:861px">W: 220 BPM</div><div class="lg bp" style="left:520px;top:873px">AC: 440 BPM</div><div class="lg st" style="left:520px;top:885px">AI: 0.14s (1/4)</div><div class="lg st" style="left:520px;top:897px">AO: 0.14s (1/4)</div><div class="lg st" style="left:520px;top:909px">AT: 0.07s (1/4)</div><div class="lg st" style="left:520px;top:921px">AX: 0.07s (1/4)</div><div class="lg bp" style="left:520px;top:933px">BC: 440 BPM</div><div class="lg st" style="left:520px;top:945px">BI: 0.14s (1/8)</div><div class="lg st" style="left:520px;top:957px">BO: 0.14s (1/8)</div><div class="lg bp" style="left:520px;top:969px">BU: 440 BPM</div><div class="lg st" style="left:648px;top:825px">F: 0.14s (1/8)</div><div class="lg st" style="left:648px;top:837px">L: 0.14s (1/8)</div><div class="lg st" style="left:648px;top:849px">R: 0.14s (1/4)</div><div class="lg bp" style="left:648px;top:861px">X: 440 BPM</div><div class="lg st" style="left:648px;top:873px">AD: 0.14s (1/4)</div><div class="lg st" style="left:648px;top:885px">AJ: 0.14s (1/4)</div><div class="lg st" style="left:648px;top:897px">AP: 0.14s (1/4)</div><div class="lg bp" style="left:648px;top:909px">AU: 440 BPM</div><div class="lg bp" style="left:648px;top:921px">AY: 440 BPM</div><div class="lg bp" style="left:648px;top:933px">BD: 220 BPM</div><div class="lg bp" style="left:648px;top:945px">BJ: 110 BPM</div><div class="lg st" style="left:648px;top:957px">BP: 0.14s (1/8)</div><div class="lg st" style="left:648px;top:969px">BV: 0.07s (1/8)</div>
<div class="t" id="ft">862 steps, 71 freeze arrows, max combo 915</div>
</body></html>
